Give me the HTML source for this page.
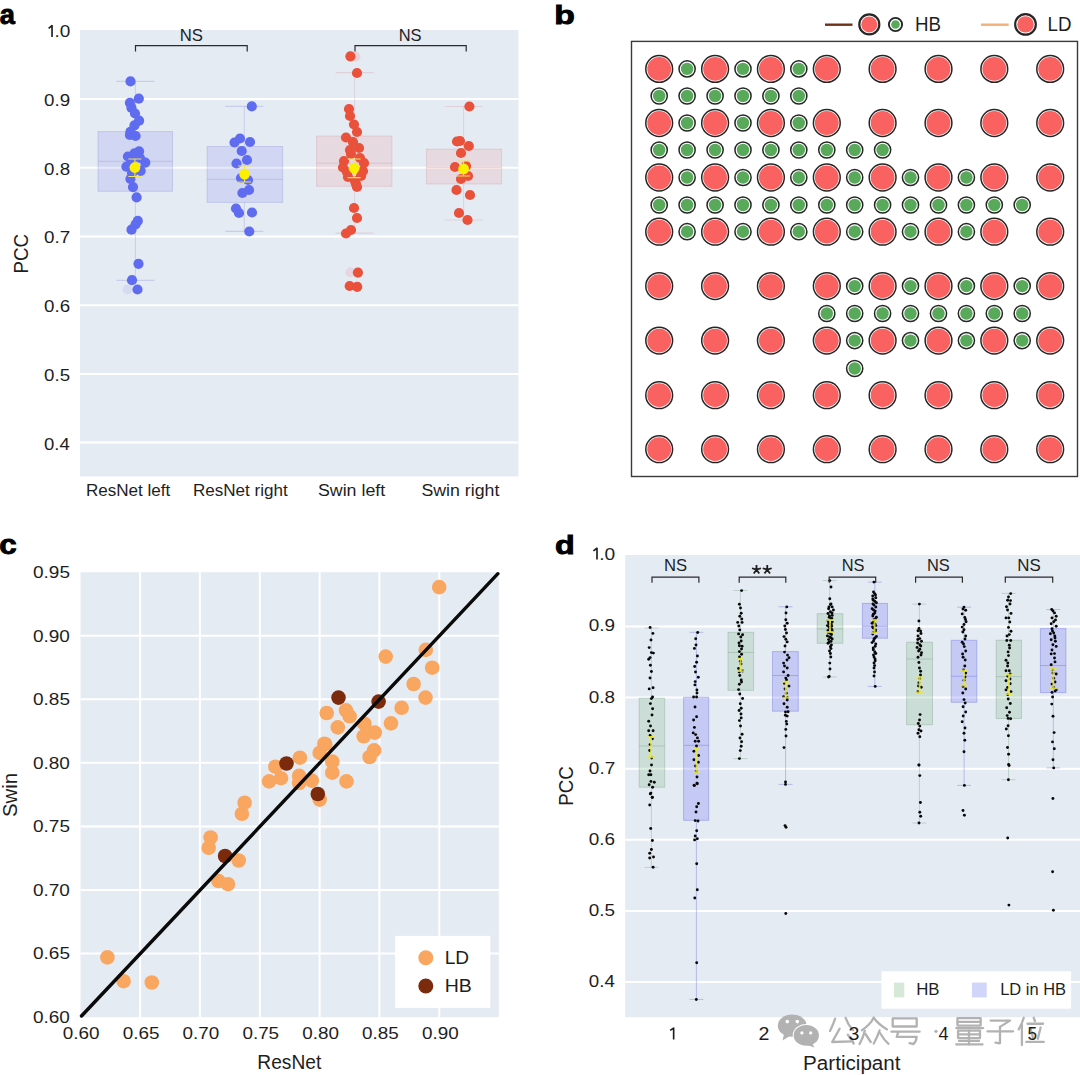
<!DOCTYPE html>
<html><head><meta charset="utf-8"><style>
html,body{margin:0;padding:0;background:#fff;}
body{width:1080px;height:1075px;overflow:hidden;}
svg{display:block;font-family:"Liberation Sans", sans-serif;}
</style></head><body>
<svg width="1080" height="1075" viewBox="0 0 1080 1075">
<rect x="80" y="30" width="438.5" height="446.5" fill="#e5ebf3"/>
<line x1="80" x2="518.5" y1="99.0" y2="99.0" stroke="#fff" stroke-width="2"/>
<line x1="80" x2="518.5" y1="167.7" y2="167.7" stroke="#fff" stroke-width="2"/>
<line x1="80" x2="518.5" y1="236.5" y2="236.5" stroke="#fff" stroke-width="2"/>
<line x1="80" x2="518.5" y1="305.2" y2="305.2" stroke="#fff" stroke-width="2"/>
<line x1="80" x2="518.5" y1="373.9" y2="373.9" stroke="#fff" stroke-width="2"/>
<line x1="80" x2="518.5" y1="442.6" y2="442.6" stroke="#fff" stroke-width="2"/>
<path d="M48.6 28.4 L52.35 25.3 M52.05 25.00 V36.9" stroke="#1e1e1e" stroke-width="1.65" fill="none" stroke-linecap="butt"/>
<text x="54.49" y="36.90" font-size="17.2" font-weight="normal" fill="#1e1e1e" textLength="15.85" lengthAdjust="spacingAndGlyphs">.0</text>
<text x="44.05" y="105.92" font-size="17.2" font-weight="normal" fill="#1e1e1e" textLength="26.10" lengthAdjust="spacingAndGlyphs">0.9</text>
<text x="44.05" y="174.64" font-size="17.2" font-weight="normal" fill="#1e1e1e" textLength="26.05" lengthAdjust="spacingAndGlyphs">0.8</text>
<text x="44.05" y="243.36" font-size="17.2" font-weight="normal" fill="#1e1e1e" textLength="26.20" lengthAdjust="spacingAndGlyphs">0.7</text>
<text x="44.05" y="312.08" font-size="17.2" font-weight="normal" fill="#1e1e1e" textLength="26.05" lengthAdjust="spacingAndGlyphs">0.6</text>
<text x="44.05" y="380.80" font-size="17.2" font-weight="normal" fill="#1e1e1e" textLength="26.00" lengthAdjust="spacingAndGlyphs">0.5</text>
<text x="44.06" y="449.52" font-size="17.2" font-weight="normal" fill="#1e1e1e" textLength="25.75" lengthAdjust="spacingAndGlyphs">0.4</text>
<text transform="translate(27.80 272.00) rotate(-90)" x="-1.55" y="0" font-size="20.3" fill="#1e1e1e" textLength="39.74" lengthAdjust="spacingAndGlyphs">PCC</text>
<text x="85.89" y="495.80" font-size="17.2" font-weight="normal" fill="#1e1e1e" textLength="84.46" lengthAdjust="spacingAndGlyphs">ResNet left</text>
<text x="192.89" y="495.80" font-size="17.2" font-weight="normal" fill="#1e1e1e" textLength="94.84" lengthAdjust="spacingAndGlyphs">ResNet right</text>
<text x="317.90" y="495.80" font-size="17.2" font-weight="normal" fill="#1e1e1e" textLength="67.33" lengthAdjust="spacingAndGlyphs">Swin left</text>
<text x="421.40" y="495.80" font-size="17.2" font-weight="normal" fill="#1e1e1e" textLength="77.95" lengthAdjust="spacingAndGlyphs">Swin right</text>
<path d="M135.4 81.4 V131.6 M135.4 191.3 V280.3" stroke="rgba(100,105,200,0.22)" stroke-width="1" fill="none"/>
<line x1="116.4" x2="154.4" y1="81.4" y2="81.4" stroke="rgba(100,105,200,0.22)" stroke-width="1.2"/>
<line x1="116.4" x2="154.4" y1="280.3" y2="280.3" stroke="rgba(100,105,200,0.22)" stroke-width="1.2"/>
<rect x="98" y="131.6" width="74.5" height="59.70000000000002" fill="rgba(110,120,245,0.17)" stroke="rgba(100,105,200,0.22)" stroke-width="1"/>
<line x1="98" x2="172.5" y1="161.3" y2="161.3" stroke="rgba(100,105,200,0.22)" stroke-width="1"/>
<path d="M244.3 106.4 V146.5 M244.3 202.4 V231.4" stroke="rgba(100,105,200,0.22)" stroke-width="1" fill="none"/>
<line x1="225.3" x2="263.3" y1="106.4" y2="106.4" stroke="rgba(100,105,200,0.22)" stroke-width="1.2"/>
<line x1="225.3" x2="263.3" y1="231.4" y2="231.4" stroke="rgba(100,105,200,0.22)" stroke-width="1.2"/>
<rect x="207.1" y="146.5" width="75.50000000000003" height="55.900000000000006" fill="rgba(110,120,245,0.17)" stroke="rgba(100,105,200,0.22)" stroke-width="1"/>
<line x1="207.1" x2="282.6" y1="179.3" y2="179.3" stroke="rgba(100,105,200,0.22)" stroke-width="1"/>
<path d="M354.6 72.7 V136 M354.6 186.3 V233.2" stroke="rgba(200,120,130,0.22)" stroke-width="1" fill="none"/>
<line x1="335.6" x2="373.6" y1="72.7" y2="72.7" stroke="rgba(200,120,130,0.22)" stroke-width="1.2"/>
<line x1="335.6" x2="373.6" y1="233.2" y2="233.2" stroke="rgba(200,120,130,0.22)" stroke-width="1.2"/>
<rect x="316.6" y="136" width="75.39999999999998" height="50.30000000000001" fill="rgba(240,130,130,0.17)" stroke="rgba(200,120,130,0.22)" stroke-width="1"/>
<line x1="316.6" x2="392" y1="163.2" y2="163.2" stroke="rgba(200,120,130,0.22)" stroke-width="1"/>
<path d="M463.6 106.5 V149.2 M463.6 184 V220" stroke="rgba(200,120,130,0.22)" stroke-width="1" fill="none"/>
<line x1="444.6" x2="482.6" y1="106.5" y2="106.5" stroke="rgba(200,120,130,0.22)" stroke-width="1.2"/>
<line x1="444.6" x2="482.6" y1="220" y2="220" stroke="rgba(200,120,130,0.22)" stroke-width="1.2"/>
<rect x="426.4" y="149.2" width="75.20000000000005" height="34.80000000000001" fill="rgba(240,130,130,0.17)" stroke="rgba(200,120,130,0.22)" stroke-width="1"/>
<line x1="426.4" x2="501.6" y1="167.6" y2="167.6" stroke="rgba(200,120,130,0.22)" stroke-width="1"/>
<circle cx="355.5" cy="56.5" r="5" fill="rgba(240,150,160,0.3)"/>
<circle cx="350.5" cy="272.2" r="5" fill="rgba(240,150,170,0.25)"/>
<circle cx="127.5" cy="289.5" r="5" fill="rgba(150,150,240,0.18)"/>
<circle cx="130.5" cy="81.4" r="5.1" fill="#5f6cf0"/>
<circle cx="138.8" cy="98.7" r="5.1" fill="#5f6cf0"/>
<circle cx="129.9" cy="102.8" r="5.1" fill="#5f6cf0"/>
<circle cx="131.5" cy="107.9" r="5.1" fill="#5f6cf0"/>
<circle cx="135" cy="113.5" r="5.1" fill="#5f6cf0"/>
<circle cx="139.1" cy="120.7" r="5.1" fill="#5f6cf0"/>
<circle cx="134.5" cy="125.3" r="5.1" fill="#5f6cf0"/>
<circle cx="130.4" cy="131.9" r="5.1" fill="#5f6cf0"/>
<circle cx="135.6" cy="136" r="5.1" fill="#5f6cf0"/>
<circle cx="129.9" cy="135" r="5.1" fill="#5f6cf0"/>
<circle cx="139.1" cy="151.3" r="5.1" fill="#5f6cf0"/>
<circle cx="127.9" cy="156.5" r="5.1" fill="#5f6cf0"/>
<circle cx="134.5" cy="153.4" r="5.1" fill="#5f6cf0"/>
<circle cx="145.3" cy="162.6" r="5.1" fill="#5f6cf0"/>
<circle cx="126.4" cy="166.7" r="5.1" fill="#5f6cf0"/>
<circle cx="140.7" cy="170.8" r="5.1" fill="#5f6cf0"/>
<circle cx="130.4" cy="179" r="5.1" fill="#5f6cf0"/>
<circle cx="133" cy="187.1" r="5.1" fill="#5f6cf0"/>
<circle cx="136.6" cy="197.4" r="5.1" fill="#5f6cf0"/>
<circle cx="131" cy="160" r="5.1" fill="#5f6cf0"/>
<circle cx="140" cy="158" r="5.1" fill="#5f6cf0"/>
<circle cx="132" cy="173" r="5.1" fill="#5f6cf0"/>
<circle cx="137.8" cy="220.9" r="5.1" fill="#5f6cf0"/>
<circle cx="135.6" cy="224.3" r="5.1" fill="#5f6cf0"/>
<circle cx="131.5" cy="229.7" r="5.1" fill="#5f6cf0"/>
<circle cx="138.5" cy="263.8" r="5.1" fill="#5f6cf0"/>
<circle cx="132" cy="280.2" r="5.1" fill="#5f6cf0"/>
<circle cx="137.5" cy="289.5" r="5.1" fill="#5f6cf0"/>
<circle cx="251.8" cy="106.4" r="5.1" fill="#5f6cf0"/>
<circle cx="240" cy="138.5" r="5.1" fill="#5f6cf0"/>
<circle cx="234.5" cy="142.5" r="5.1" fill="#5f6cf0"/>
<circle cx="250" cy="142" r="5.1" fill="#5f6cf0"/>
<circle cx="241.7" cy="151" r="5.1" fill="#5f6cf0"/>
<circle cx="247" cy="160" r="5.1" fill="#5f6cf0"/>
<circle cx="236.5" cy="163.5" r="5.1" fill="#5f6cf0"/>
<circle cx="241" cy="178" r="5.1" fill="#5f6cf0"/>
<circle cx="248" cy="180" r="5.1" fill="#5f6cf0"/>
<circle cx="249" cy="190" r="5.1" fill="#5f6cf0"/>
<circle cx="242.4" cy="193" r="5.1" fill="#5f6cf0"/>
<circle cx="236" cy="208.5" r="5.1" fill="#5f6cf0"/>
<circle cx="239" cy="213" r="5.1" fill="#5f6cf0"/>
<circle cx="252" cy="212.5" r="5.1" fill="#5f6cf0"/>
<circle cx="249.3" cy="231.5" r="5.1" fill="#5f6cf0"/>
<circle cx="350.4" cy="56.3" r="5.1" fill="#e9513b"/>
<circle cx="357" cy="73" r="5.1" fill="#e9513b"/>
<circle cx="349" cy="109" r="5.1" fill="#e9513b"/>
<circle cx="350" cy="116" r="5.1" fill="#e9513b"/>
<circle cx="354" cy="124.5" r="5.1" fill="#e9513b"/>
<circle cx="357" cy="132" r="5.1" fill="#e9513b"/>
<circle cx="346" cy="137.5" r="5.1" fill="#e9513b"/>
<circle cx="353" cy="142" r="5.1" fill="#e9513b"/>
<circle cx="359" cy="148" r="5.1" fill="#e9513b"/>
<circle cx="351" cy="154" r="5.1" fill="#e9513b"/>
<circle cx="344" cy="161" r="5.1" fill="#e9513b"/>
<circle cx="343" cy="167.5" r="5.1" fill="#e9513b"/>
<circle cx="364" cy="163" r="5.1" fill="#e9513b"/>
<circle cx="363" cy="171" r="5.1" fill="#e9513b"/>
<circle cx="348" cy="177" r="5.1" fill="#e9513b"/>
<circle cx="355" cy="181" r="5.1" fill="#e9513b"/>
<circle cx="357" cy="187" r="5.1" fill="#e9513b"/>
<circle cx="356" cy="184" r="5.1" fill="#e9513b"/>
<circle cx="354" cy="208" r="5.1" fill="#e9513b"/>
<circle cx="357" cy="218" r="5.1" fill="#e9513b"/>
<circle cx="346" cy="233.5" r="5.1" fill="#e9513b"/>
<circle cx="351" cy="230" r="5.1" fill="#e9513b"/>
<circle cx="357.9" cy="272.6" r="5.1" fill="#e9513b"/>
<circle cx="349.7" cy="286" r="5.1" fill="#e9513b"/>
<circle cx="357.2" cy="286.8" r="5.1" fill="#e9513b"/>
<circle cx="350" cy="150" r="5.1" fill="#e9513b"/>
<circle cx="360" cy="158" r="5.1" fill="#e9513b"/>
<circle cx="347" cy="172" r="5.1" fill="#e9513b"/>
<circle cx="361" cy="176" r="5.1" fill="#e9513b"/>
<circle cx="469.4" cy="106.5" r="5.1" fill="#e9513b"/>
<circle cx="457" cy="141.5" r="5.1" fill="#e9513b"/>
<circle cx="460" cy="141" r="5.1" fill="#e9513b"/>
<circle cx="468.8" cy="146" r="5.1" fill="#e9513b"/>
<circle cx="461" cy="153" r="5.1" fill="#e9513b"/>
<circle cx="455" cy="167" r="5.1" fill="#e9513b"/>
<circle cx="466" cy="166" r="5.1" fill="#e9513b"/>
<circle cx="468" cy="176" r="5.1" fill="#e9513b"/>
<circle cx="461" cy="179" r="5.1" fill="#e9513b"/>
<circle cx="456.5" cy="190" r="5.1" fill="#e9513b"/>
<circle cx="470" cy="195" r="5.1" fill="#e9513b"/>
<circle cx="459" cy="213" r="5.1" fill="#e9513b"/>
<circle cx="467.5" cy="220" r="5.1" fill="#e9513b"/>
<path d="M134.9 159 V176.5 M128.4 159 H141.4 M128.4 176.5 H141.4" stroke="#f2e25a" stroke-width="1.1" fill="none"/>
<circle cx="134.9" cy="167.5" r="5.4" fill="#fbf000"/>
<path d="M244.6 166 V182 M238.1 166 H251.1 M238.1 182 H251.1" stroke="#f2e25a" stroke-width="1.1" fill="none"/>
<circle cx="244.6" cy="174.1" r="5.4" fill="#fbf000"/>
<path d="M354.1 159 V177.6 M347.6 159 H360.6 M347.6 177.6 H360.6" stroke="#f2e25a" stroke-width="1.1" fill="none"/>
<circle cx="354.1" cy="168.3" r="5.4" fill="#fbf000"/>
<path d="M463.6 161 V176 M457.1 161 H470.1 M457.1 176 H470.1" stroke="#f2e25a" stroke-width="1.1" fill="none"/>
<circle cx="463.6" cy="168.9" r="5.4" fill="#fbf000"/>
<path d="M135.5 51.5 V45.6 H247.2 V51.5" fill="none" stroke="#2a2a2a" stroke-width="1.2"/>
<path d="M355 51.5 V45.6 H466.2 V51.5" fill="none" stroke="#2a2a2a" stroke-width="1.2"/>
<text x="179.72" y="41.40" font-size="17" font-weight="normal" fill="#1e1e1e" textLength="23.22" lengthAdjust="spacingAndGlyphs">NS</text>
<text x="398.64" y="41.40" font-size="17" font-weight="normal" fill="#1e1e1e" textLength="22.89" lengthAdjust="spacingAndGlyphs">NS</text>
<text x="-0.32" y="23.70" font-size="28" font-weight="bold" fill="#000" textLength="15.14" lengthAdjust="spacingAndGlyphs" stroke="#000" stroke-width="0.9">a</text>
<rect x="631.5" y="41.4" width="446" height="435.1" fill="#fff" stroke="#3a3a3a" stroke-width="1.4"/>
<text x="554.31" y="24.00" font-size="26.5" font-weight="bold" fill="#000" textLength="20.56" lengthAdjust="spacingAndGlyphs" stroke="#000" stroke-width="0.9">b</text>
<circle cx="659.2" cy="68.9" r="13.4" fill="#fff" stroke="#262626" stroke-width="1.5"/>
<circle cx="659.2" cy="68.9" r="11.9" fill="#fa6262"/>
<circle cx="715.1" cy="68.9" r="13.4" fill="#fff" stroke="#262626" stroke-width="1.5"/>
<circle cx="715.1" cy="68.9" r="11.9" fill="#fa6262"/>
<circle cx="770.9" cy="68.9" r="13.4" fill="#fff" stroke="#262626" stroke-width="1.5"/>
<circle cx="770.9" cy="68.9" r="11.9" fill="#fa6262"/>
<circle cx="826.8" cy="68.9" r="13.4" fill="#fff" stroke="#262626" stroke-width="1.5"/>
<circle cx="826.8" cy="68.9" r="11.9" fill="#fa6262"/>
<circle cx="882.6" cy="68.9" r="13.4" fill="#fff" stroke="#262626" stroke-width="1.5"/>
<circle cx="882.6" cy="68.9" r="11.9" fill="#fa6262"/>
<circle cx="938.5" cy="68.9" r="13.4" fill="#fff" stroke="#262626" stroke-width="1.5"/>
<circle cx="938.5" cy="68.9" r="11.9" fill="#fa6262"/>
<circle cx="994.3" cy="68.9" r="13.4" fill="#fff" stroke="#262626" stroke-width="1.5"/>
<circle cx="994.3" cy="68.9" r="11.9" fill="#fa6262"/>
<circle cx="1050.2" cy="68.9" r="13.4" fill="#fff" stroke="#262626" stroke-width="1.5"/>
<circle cx="1050.2" cy="68.9" r="11.9" fill="#fa6262"/>
<circle cx="659.2" cy="123.0" r="13.4" fill="#fff" stroke="#262626" stroke-width="1.5"/>
<circle cx="659.2" cy="123.0" r="11.9" fill="#fa6262"/>
<circle cx="715.1" cy="123.0" r="13.4" fill="#fff" stroke="#262626" stroke-width="1.5"/>
<circle cx="715.1" cy="123.0" r="11.9" fill="#fa6262"/>
<circle cx="770.9" cy="123.0" r="13.4" fill="#fff" stroke="#262626" stroke-width="1.5"/>
<circle cx="770.9" cy="123.0" r="11.9" fill="#fa6262"/>
<circle cx="826.8" cy="123.0" r="13.4" fill="#fff" stroke="#262626" stroke-width="1.5"/>
<circle cx="826.8" cy="123.0" r="11.9" fill="#fa6262"/>
<circle cx="882.6" cy="123.0" r="13.4" fill="#fff" stroke="#262626" stroke-width="1.5"/>
<circle cx="882.6" cy="123.0" r="11.9" fill="#fa6262"/>
<circle cx="938.5" cy="123.0" r="13.4" fill="#fff" stroke="#262626" stroke-width="1.5"/>
<circle cx="938.5" cy="123.0" r="11.9" fill="#fa6262"/>
<circle cx="994.3" cy="123.0" r="13.4" fill="#fff" stroke="#262626" stroke-width="1.5"/>
<circle cx="994.3" cy="123.0" r="11.9" fill="#fa6262"/>
<circle cx="1050.2" cy="123.0" r="13.4" fill="#fff" stroke="#262626" stroke-width="1.5"/>
<circle cx="1050.2" cy="123.0" r="11.9" fill="#fa6262"/>
<circle cx="659.2" cy="177.5" r="13.4" fill="#fff" stroke="#262626" stroke-width="1.5"/>
<circle cx="659.2" cy="177.5" r="11.9" fill="#fa6262"/>
<circle cx="715.1" cy="177.5" r="13.4" fill="#fff" stroke="#262626" stroke-width="1.5"/>
<circle cx="715.1" cy="177.5" r="11.9" fill="#fa6262"/>
<circle cx="770.9" cy="177.5" r="13.4" fill="#fff" stroke="#262626" stroke-width="1.5"/>
<circle cx="770.9" cy="177.5" r="11.9" fill="#fa6262"/>
<circle cx="826.8" cy="177.5" r="13.4" fill="#fff" stroke="#262626" stroke-width="1.5"/>
<circle cx="826.8" cy="177.5" r="11.9" fill="#fa6262"/>
<circle cx="882.6" cy="177.5" r="13.4" fill="#fff" stroke="#262626" stroke-width="1.5"/>
<circle cx="882.6" cy="177.5" r="11.9" fill="#fa6262"/>
<circle cx="938.5" cy="177.5" r="13.4" fill="#fff" stroke="#262626" stroke-width="1.5"/>
<circle cx="938.5" cy="177.5" r="11.9" fill="#fa6262"/>
<circle cx="994.3" cy="177.5" r="13.4" fill="#fff" stroke="#262626" stroke-width="1.5"/>
<circle cx="994.3" cy="177.5" r="11.9" fill="#fa6262"/>
<circle cx="1050.2" cy="177.5" r="13.4" fill="#fff" stroke="#262626" stroke-width="1.5"/>
<circle cx="1050.2" cy="177.5" r="11.9" fill="#fa6262"/>
<circle cx="659.2" cy="231.7" r="13.4" fill="#fff" stroke="#262626" stroke-width="1.5"/>
<circle cx="659.2" cy="231.7" r="11.9" fill="#fa6262"/>
<circle cx="715.1" cy="231.7" r="13.4" fill="#fff" stroke="#262626" stroke-width="1.5"/>
<circle cx="715.1" cy="231.7" r="11.9" fill="#fa6262"/>
<circle cx="770.9" cy="231.7" r="13.4" fill="#fff" stroke="#262626" stroke-width="1.5"/>
<circle cx="770.9" cy="231.7" r="11.9" fill="#fa6262"/>
<circle cx="826.8" cy="231.7" r="13.4" fill="#fff" stroke="#262626" stroke-width="1.5"/>
<circle cx="826.8" cy="231.7" r="11.9" fill="#fa6262"/>
<circle cx="882.6" cy="231.7" r="13.4" fill="#fff" stroke="#262626" stroke-width="1.5"/>
<circle cx="882.6" cy="231.7" r="11.9" fill="#fa6262"/>
<circle cx="938.5" cy="231.7" r="13.4" fill="#fff" stroke="#262626" stroke-width="1.5"/>
<circle cx="938.5" cy="231.7" r="11.9" fill="#fa6262"/>
<circle cx="994.3" cy="231.7" r="13.4" fill="#fff" stroke="#262626" stroke-width="1.5"/>
<circle cx="994.3" cy="231.7" r="11.9" fill="#fa6262"/>
<circle cx="1050.2" cy="231.7" r="13.4" fill="#fff" stroke="#262626" stroke-width="1.5"/>
<circle cx="1050.2" cy="231.7" r="11.9" fill="#fa6262"/>
<circle cx="659.2" cy="286.1" r="13.4" fill="#fff" stroke="#262626" stroke-width="1.5"/>
<circle cx="659.2" cy="286.1" r="11.9" fill="#fa6262"/>
<circle cx="715.1" cy="286.1" r="13.4" fill="#fff" stroke="#262626" stroke-width="1.5"/>
<circle cx="715.1" cy="286.1" r="11.9" fill="#fa6262"/>
<circle cx="770.9" cy="286.1" r="13.4" fill="#fff" stroke="#262626" stroke-width="1.5"/>
<circle cx="770.9" cy="286.1" r="11.9" fill="#fa6262"/>
<circle cx="826.8" cy="286.1" r="13.4" fill="#fff" stroke="#262626" stroke-width="1.5"/>
<circle cx="826.8" cy="286.1" r="11.9" fill="#fa6262"/>
<circle cx="882.6" cy="286.1" r="13.4" fill="#fff" stroke="#262626" stroke-width="1.5"/>
<circle cx="882.6" cy="286.1" r="11.9" fill="#fa6262"/>
<circle cx="938.5" cy="286.1" r="13.4" fill="#fff" stroke="#262626" stroke-width="1.5"/>
<circle cx="938.5" cy="286.1" r="11.9" fill="#fa6262"/>
<circle cx="994.3" cy="286.1" r="13.4" fill="#fff" stroke="#262626" stroke-width="1.5"/>
<circle cx="994.3" cy="286.1" r="11.9" fill="#fa6262"/>
<circle cx="1050.2" cy="286.1" r="13.4" fill="#fff" stroke="#262626" stroke-width="1.5"/>
<circle cx="1050.2" cy="286.1" r="11.9" fill="#fa6262"/>
<circle cx="659.2" cy="340.6" r="13.4" fill="#fff" stroke="#262626" stroke-width="1.5"/>
<circle cx="659.2" cy="340.6" r="11.9" fill="#fa6262"/>
<circle cx="715.1" cy="340.6" r="13.4" fill="#fff" stroke="#262626" stroke-width="1.5"/>
<circle cx="715.1" cy="340.6" r="11.9" fill="#fa6262"/>
<circle cx="770.9" cy="340.6" r="13.4" fill="#fff" stroke="#262626" stroke-width="1.5"/>
<circle cx="770.9" cy="340.6" r="11.9" fill="#fa6262"/>
<circle cx="826.8" cy="340.6" r="13.4" fill="#fff" stroke="#262626" stroke-width="1.5"/>
<circle cx="826.8" cy="340.6" r="11.9" fill="#fa6262"/>
<circle cx="882.6" cy="340.6" r="13.4" fill="#fff" stroke="#262626" stroke-width="1.5"/>
<circle cx="882.6" cy="340.6" r="11.9" fill="#fa6262"/>
<circle cx="938.5" cy="340.6" r="13.4" fill="#fff" stroke="#262626" stroke-width="1.5"/>
<circle cx="938.5" cy="340.6" r="11.9" fill="#fa6262"/>
<circle cx="994.3" cy="340.6" r="13.4" fill="#fff" stroke="#262626" stroke-width="1.5"/>
<circle cx="994.3" cy="340.6" r="11.9" fill="#fa6262"/>
<circle cx="1050.2" cy="340.6" r="13.4" fill="#fff" stroke="#262626" stroke-width="1.5"/>
<circle cx="1050.2" cy="340.6" r="11.9" fill="#fa6262"/>
<circle cx="659.2" cy="395.2" r="13.4" fill="#fff" stroke="#262626" stroke-width="1.5"/>
<circle cx="659.2" cy="395.2" r="11.9" fill="#fa6262"/>
<circle cx="715.1" cy="395.2" r="13.4" fill="#fff" stroke="#262626" stroke-width="1.5"/>
<circle cx="715.1" cy="395.2" r="11.9" fill="#fa6262"/>
<circle cx="770.9" cy="395.2" r="13.4" fill="#fff" stroke="#262626" stroke-width="1.5"/>
<circle cx="770.9" cy="395.2" r="11.9" fill="#fa6262"/>
<circle cx="826.8" cy="395.2" r="13.4" fill="#fff" stroke="#262626" stroke-width="1.5"/>
<circle cx="826.8" cy="395.2" r="11.9" fill="#fa6262"/>
<circle cx="882.6" cy="395.2" r="13.4" fill="#fff" stroke="#262626" stroke-width="1.5"/>
<circle cx="882.6" cy="395.2" r="11.9" fill="#fa6262"/>
<circle cx="938.5" cy="395.2" r="13.4" fill="#fff" stroke="#262626" stroke-width="1.5"/>
<circle cx="938.5" cy="395.2" r="11.9" fill="#fa6262"/>
<circle cx="994.3" cy="395.2" r="13.4" fill="#fff" stroke="#262626" stroke-width="1.5"/>
<circle cx="994.3" cy="395.2" r="11.9" fill="#fa6262"/>
<circle cx="1050.2" cy="395.2" r="13.4" fill="#fff" stroke="#262626" stroke-width="1.5"/>
<circle cx="1050.2" cy="395.2" r="11.9" fill="#fa6262"/>
<circle cx="659.2" cy="449.2" r="13.4" fill="#fff" stroke="#262626" stroke-width="1.5"/>
<circle cx="659.2" cy="449.2" r="11.9" fill="#fa6262"/>
<circle cx="715.1" cy="449.2" r="13.4" fill="#fff" stroke="#262626" stroke-width="1.5"/>
<circle cx="715.1" cy="449.2" r="11.9" fill="#fa6262"/>
<circle cx="770.9" cy="449.2" r="13.4" fill="#fff" stroke="#262626" stroke-width="1.5"/>
<circle cx="770.9" cy="449.2" r="11.9" fill="#fa6262"/>
<circle cx="826.8" cy="449.2" r="13.4" fill="#fff" stroke="#262626" stroke-width="1.5"/>
<circle cx="826.8" cy="449.2" r="11.9" fill="#fa6262"/>
<circle cx="882.6" cy="449.2" r="13.4" fill="#fff" stroke="#262626" stroke-width="1.5"/>
<circle cx="882.6" cy="449.2" r="11.9" fill="#fa6262"/>
<circle cx="938.5" cy="449.2" r="13.4" fill="#fff" stroke="#262626" stroke-width="1.5"/>
<circle cx="938.5" cy="449.2" r="11.9" fill="#fa6262"/>
<circle cx="994.3" cy="449.2" r="13.4" fill="#fff" stroke="#262626" stroke-width="1.5"/>
<circle cx="994.3" cy="449.2" r="11.9" fill="#fa6262"/>
<circle cx="1050.2" cy="449.2" r="13.4" fill="#fff" stroke="#262626" stroke-width="1.5"/>
<circle cx="1050.2" cy="449.2" r="11.9" fill="#fa6262"/>
<circle cx="687.1" cy="68.9" r="8.1" fill="#fff" stroke="#262626" stroke-width="1.5"/>
<circle cx="687.1" cy="68.9" r="6.2" fill="#58aa5a"/>
<circle cx="743.0" cy="68.9" r="8.1" fill="#fff" stroke="#262626" stroke-width="1.5"/>
<circle cx="743.0" cy="68.9" r="6.2" fill="#58aa5a"/>
<circle cx="798.8" cy="68.9" r="8.1" fill="#fff" stroke="#262626" stroke-width="1.5"/>
<circle cx="798.8" cy="68.9" r="6.2" fill="#58aa5a"/>
<circle cx="687.1" cy="123.0" r="8.1" fill="#fff" stroke="#262626" stroke-width="1.5"/>
<circle cx="687.1" cy="123.0" r="6.2" fill="#58aa5a"/>
<circle cx="743.0" cy="123.0" r="8.1" fill="#fff" stroke="#262626" stroke-width="1.5"/>
<circle cx="743.0" cy="123.0" r="6.2" fill="#58aa5a"/>
<circle cx="798.8" cy="123.0" r="8.1" fill="#fff" stroke="#262626" stroke-width="1.5"/>
<circle cx="798.8" cy="123.0" r="6.2" fill="#58aa5a"/>
<circle cx="687.1" cy="177.5" r="8.1" fill="#fff" stroke="#262626" stroke-width="1.5"/>
<circle cx="687.1" cy="177.5" r="6.2" fill="#58aa5a"/>
<circle cx="743.0" cy="177.5" r="8.1" fill="#fff" stroke="#262626" stroke-width="1.5"/>
<circle cx="743.0" cy="177.5" r="6.2" fill="#58aa5a"/>
<circle cx="798.8" cy="177.5" r="8.1" fill="#fff" stroke="#262626" stroke-width="1.5"/>
<circle cx="798.8" cy="177.5" r="6.2" fill="#58aa5a"/>
<circle cx="854.7" cy="177.5" r="8.1" fill="#fff" stroke="#262626" stroke-width="1.5"/>
<circle cx="854.7" cy="177.5" r="6.2" fill="#58aa5a"/>
<circle cx="910.5" cy="177.5" r="8.1" fill="#fff" stroke="#262626" stroke-width="1.5"/>
<circle cx="910.5" cy="177.5" r="6.2" fill="#58aa5a"/>
<circle cx="966.4" cy="177.5" r="8.1" fill="#fff" stroke="#262626" stroke-width="1.5"/>
<circle cx="966.4" cy="177.5" r="6.2" fill="#58aa5a"/>
<circle cx="687.1" cy="231.7" r="8.1" fill="#fff" stroke="#262626" stroke-width="1.5"/>
<circle cx="687.1" cy="231.7" r="6.2" fill="#58aa5a"/>
<circle cx="743.0" cy="231.7" r="8.1" fill="#fff" stroke="#262626" stroke-width="1.5"/>
<circle cx="743.0" cy="231.7" r="6.2" fill="#58aa5a"/>
<circle cx="798.8" cy="231.7" r="8.1" fill="#fff" stroke="#262626" stroke-width="1.5"/>
<circle cx="798.8" cy="231.7" r="6.2" fill="#58aa5a"/>
<circle cx="854.7" cy="231.7" r="8.1" fill="#fff" stroke="#262626" stroke-width="1.5"/>
<circle cx="854.7" cy="231.7" r="6.2" fill="#58aa5a"/>
<circle cx="910.5" cy="231.7" r="8.1" fill="#fff" stroke="#262626" stroke-width="1.5"/>
<circle cx="910.5" cy="231.7" r="6.2" fill="#58aa5a"/>
<circle cx="966.4" cy="231.7" r="8.1" fill="#fff" stroke="#262626" stroke-width="1.5"/>
<circle cx="966.4" cy="231.7" r="6.2" fill="#58aa5a"/>
<circle cx="854.7" cy="286.1" r="8.1" fill="#fff" stroke="#262626" stroke-width="1.5"/>
<circle cx="854.7" cy="286.1" r="6.2" fill="#58aa5a"/>
<circle cx="910.5" cy="286.1" r="8.1" fill="#fff" stroke="#262626" stroke-width="1.5"/>
<circle cx="910.5" cy="286.1" r="6.2" fill="#58aa5a"/>
<circle cx="966.4" cy="286.1" r="8.1" fill="#fff" stroke="#262626" stroke-width="1.5"/>
<circle cx="966.4" cy="286.1" r="6.2" fill="#58aa5a"/>
<circle cx="1022.2" cy="286.1" r="8.1" fill="#fff" stroke="#262626" stroke-width="1.5"/>
<circle cx="1022.2" cy="286.1" r="6.2" fill="#58aa5a"/>
<circle cx="854.7" cy="340.6" r="8.1" fill="#fff" stroke="#262626" stroke-width="1.5"/>
<circle cx="854.7" cy="340.6" r="6.2" fill="#58aa5a"/>
<circle cx="910.5" cy="340.6" r="8.1" fill="#fff" stroke="#262626" stroke-width="1.5"/>
<circle cx="910.5" cy="340.6" r="6.2" fill="#58aa5a"/>
<circle cx="966.4" cy="340.6" r="8.1" fill="#fff" stroke="#262626" stroke-width="1.5"/>
<circle cx="966.4" cy="340.6" r="6.2" fill="#58aa5a"/>
<circle cx="1022.2" cy="340.6" r="8.1" fill="#fff" stroke="#262626" stroke-width="1.5"/>
<circle cx="1022.2" cy="340.6" r="6.2" fill="#58aa5a"/>
<circle cx="659.2" cy="96.0" r="8.1" fill="#fff" stroke="#262626" stroke-width="1.5"/>
<circle cx="659.2" cy="96.0" r="6.2" fill="#58aa5a"/>
<circle cx="687.1" cy="96.0" r="8.1" fill="#fff" stroke="#262626" stroke-width="1.5"/>
<circle cx="687.1" cy="96.0" r="6.2" fill="#58aa5a"/>
<circle cx="715.1" cy="96.0" r="8.1" fill="#fff" stroke="#262626" stroke-width="1.5"/>
<circle cx="715.1" cy="96.0" r="6.2" fill="#58aa5a"/>
<circle cx="743.0" cy="96.0" r="8.1" fill="#fff" stroke="#262626" stroke-width="1.5"/>
<circle cx="743.0" cy="96.0" r="6.2" fill="#58aa5a"/>
<circle cx="770.9" cy="96.0" r="8.1" fill="#fff" stroke="#262626" stroke-width="1.5"/>
<circle cx="770.9" cy="96.0" r="6.2" fill="#58aa5a"/>
<circle cx="798.8" cy="96.0" r="8.1" fill="#fff" stroke="#262626" stroke-width="1.5"/>
<circle cx="798.8" cy="96.0" r="6.2" fill="#58aa5a"/>
<circle cx="659.2" cy="150.0" r="8.1" fill="#fff" stroke="#262626" stroke-width="1.5"/>
<circle cx="659.2" cy="150.0" r="6.2" fill="#58aa5a"/>
<circle cx="687.1" cy="150.0" r="8.1" fill="#fff" stroke="#262626" stroke-width="1.5"/>
<circle cx="687.1" cy="150.0" r="6.2" fill="#58aa5a"/>
<circle cx="715.1" cy="150.0" r="8.1" fill="#fff" stroke="#262626" stroke-width="1.5"/>
<circle cx="715.1" cy="150.0" r="6.2" fill="#58aa5a"/>
<circle cx="743.0" cy="150.0" r="8.1" fill="#fff" stroke="#262626" stroke-width="1.5"/>
<circle cx="743.0" cy="150.0" r="6.2" fill="#58aa5a"/>
<circle cx="770.9" cy="150.0" r="8.1" fill="#fff" stroke="#262626" stroke-width="1.5"/>
<circle cx="770.9" cy="150.0" r="6.2" fill="#58aa5a"/>
<circle cx="798.8" cy="150.0" r="8.1" fill="#fff" stroke="#262626" stroke-width="1.5"/>
<circle cx="798.8" cy="150.0" r="6.2" fill="#58aa5a"/>
<circle cx="826.8" cy="150.0" r="8.1" fill="#fff" stroke="#262626" stroke-width="1.5"/>
<circle cx="826.8" cy="150.0" r="6.2" fill="#58aa5a"/>
<circle cx="854.7" cy="150.0" r="8.1" fill="#fff" stroke="#262626" stroke-width="1.5"/>
<circle cx="854.7" cy="150.0" r="6.2" fill="#58aa5a"/>
<circle cx="882.6" cy="150.0" r="8.1" fill="#fff" stroke="#262626" stroke-width="1.5"/>
<circle cx="882.6" cy="150.0" r="6.2" fill="#58aa5a"/>
<circle cx="659.2" cy="205.0" r="8.1" fill="#fff" stroke="#262626" stroke-width="1.5"/>
<circle cx="659.2" cy="205.0" r="6.2" fill="#58aa5a"/>
<circle cx="687.1" cy="205.0" r="8.1" fill="#fff" stroke="#262626" stroke-width="1.5"/>
<circle cx="687.1" cy="205.0" r="6.2" fill="#58aa5a"/>
<circle cx="715.1" cy="205.0" r="8.1" fill="#fff" stroke="#262626" stroke-width="1.5"/>
<circle cx="715.1" cy="205.0" r="6.2" fill="#58aa5a"/>
<circle cx="743.0" cy="205.0" r="8.1" fill="#fff" stroke="#262626" stroke-width="1.5"/>
<circle cx="743.0" cy="205.0" r="6.2" fill="#58aa5a"/>
<circle cx="770.9" cy="205.0" r="8.1" fill="#fff" stroke="#262626" stroke-width="1.5"/>
<circle cx="770.9" cy="205.0" r="6.2" fill="#58aa5a"/>
<circle cx="798.8" cy="205.0" r="8.1" fill="#fff" stroke="#262626" stroke-width="1.5"/>
<circle cx="798.8" cy="205.0" r="6.2" fill="#58aa5a"/>
<circle cx="826.8" cy="205.0" r="8.1" fill="#fff" stroke="#262626" stroke-width="1.5"/>
<circle cx="826.8" cy="205.0" r="6.2" fill="#58aa5a"/>
<circle cx="854.7" cy="205.0" r="8.1" fill="#fff" stroke="#262626" stroke-width="1.5"/>
<circle cx="854.7" cy="205.0" r="6.2" fill="#58aa5a"/>
<circle cx="882.6" cy="205.0" r="8.1" fill="#fff" stroke="#262626" stroke-width="1.5"/>
<circle cx="882.6" cy="205.0" r="6.2" fill="#58aa5a"/>
<circle cx="910.5" cy="205.0" r="8.1" fill="#fff" stroke="#262626" stroke-width="1.5"/>
<circle cx="910.5" cy="205.0" r="6.2" fill="#58aa5a"/>
<circle cx="938.5" cy="205.0" r="8.1" fill="#fff" stroke="#262626" stroke-width="1.5"/>
<circle cx="938.5" cy="205.0" r="6.2" fill="#58aa5a"/>
<circle cx="966.4" cy="205.0" r="8.1" fill="#fff" stroke="#262626" stroke-width="1.5"/>
<circle cx="966.4" cy="205.0" r="6.2" fill="#58aa5a"/>
<circle cx="994.3" cy="205.0" r="8.1" fill="#fff" stroke="#262626" stroke-width="1.5"/>
<circle cx="994.3" cy="205.0" r="6.2" fill="#58aa5a"/>
<circle cx="1022.2" cy="205.0" r="8.1" fill="#fff" stroke="#262626" stroke-width="1.5"/>
<circle cx="1022.2" cy="205.0" r="6.2" fill="#58aa5a"/>
<circle cx="826.8" cy="313.5" r="8.1" fill="#fff" stroke="#262626" stroke-width="1.5"/>
<circle cx="826.8" cy="313.5" r="6.2" fill="#58aa5a"/>
<circle cx="854.7" cy="313.5" r="8.1" fill="#fff" stroke="#262626" stroke-width="1.5"/>
<circle cx="854.7" cy="313.5" r="6.2" fill="#58aa5a"/>
<circle cx="882.6" cy="313.5" r="8.1" fill="#fff" stroke="#262626" stroke-width="1.5"/>
<circle cx="882.6" cy="313.5" r="6.2" fill="#58aa5a"/>
<circle cx="910.5" cy="313.5" r="8.1" fill="#fff" stroke="#262626" stroke-width="1.5"/>
<circle cx="910.5" cy="313.5" r="6.2" fill="#58aa5a"/>
<circle cx="938.5" cy="313.5" r="8.1" fill="#fff" stroke="#262626" stroke-width="1.5"/>
<circle cx="938.5" cy="313.5" r="6.2" fill="#58aa5a"/>
<circle cx="966.4" cy="313.5" r="8.1" fill="#fff" stroke="#262626" stroke-width="1.5"/>
<circle cx="966.4" cy="313.5" r="6.2" fill="#58aa5a"/>
<circle cx="994.3" cy="313.5" r="8.1" fill="#fff" stroke="#262626" stroke-width="1.5"/>
<circle cx="994.3" cy="313.5" r="6.2" fill="#58aa5a"/>
<circle cx="1022.2" cy="313.5" r="8.1" fill="#fff" stroke="#262626" stroke-width="1.5"/>
<circle cx="1022.2" cy="313.5" r="6.2" fill="#58aa5a"/>
<circle cx="854.7" cy="368.5" r="8.1" fill="#fff" stroke="#262626" stroke-width="1.5"/>
<circle cx="854.7" cy="368.5" r="6.2" fill="#58aa5a"/>
<line x1="825" x2="852.5" y1="24.7" y2="24.7" stroke="#6e3218" stroke-width="2.4"/>
<circle cx="869.3" cy="24.4" r="10.0" fill="#fff" stroke="#262626" stroke-width="2.2"/>
<circle cx="869.3" cy="24.4" r="8.0" fill="#fa6262"/>
<circle cx="895.5" cy="24.5" r="6.6" fill="#fff" stroke="#262626" stroke-width="1.9"/>
<circle cx="895.5" cy="24.5" r="4.3" fill="#58aa5a"/>
<text x="914.96" y="30.60" font-size="20.2" font-weight="normal" fill="#1e1e1e" textLength="26.01" lengthAdjust="spacingAndGlyphs">HB</text>
<line x1="981" x2="1008.7" y1="24.7" y2="24.7" stroke="#f2b07c" stroke-width="2.4"/>
<circle cx="1025.5" cy="24.4" r="10.3" fill="#fff" stroke="#262626" stroke-width="2.2"/>
<circle cx="1025.5" cy="24.4" r="8.2" fill="#fa6262"/>
<text x="1047.55" y="30.60" font-size="20.2" font-weight="normal" fill="#1e1e1e" textLength="23.95" lengthAdjust="spacingAndGlyphs">LD</text>
<rect x="80.5" y="572.2" width="418.3" height="445.0" fill="#e5ebf3"/>
<line x1="140.1" x2="140.1" y1="572.2" y2="1017.2" stroke="#fff" stroke-width="2"/>
<line x1="199.9" x2="199.9" y1="572.2" y2="1017.2" stroke="#fff" stroke-width="2"/>
<line x1="259.8" x2="259.8" y1="572.2" y2="1017.2" stroke="#fff" stroke-width="2"/>
<line x1="319.6" x2="319.6" y1="572.2" y2="1017.2" stroke="#fff" stroke-width="2"/>
<line x1="379.4" x2="379.4" y1="572.2" y2="1017.2" stroke="#fff" stroke-width="2"/>
<line x1="439.3" x2="439.3" y1="572.2" y2="1017.2" stroke="#fff" stroke-width="2"/>
<line x1="80.5" x2="498.8" y1="953.4" y2="953.4" stroke="#fff" stroke-width="2"/>
<line x1="80.5" x2="498.8" y1="889.9" y2="889.9" stroke="#fff" stroke-width="2"/>
<line x1="80.5" x2="498.8" y1="826.4" y2="826.4" stroke="#fff" stroke-width="2"/>
<line x1="80.5" x2="498.8" y1="762.8" y2="762.8" stroke="#fff" stroke-width="2"/>
<line x1="80.5" x2="498.8" y1="699.2" y2="699.2" stroke="#fff" stroke-width="2"/>
<line x1="80.5" x2="498.8" y1="635.7" y2="635.7" stroke="#fff" stroke-width="2"/>
<text x="32.99" y="1023.00" font-size="17.1" font-weight="normal" fill="#1e1e1e" textLength="36.95" lengthAdjust="spacingAndGlyphs">0.60</text>
<text x="32.99" y="959.45" font-size="17.1" font-weight="normal" fill="#1e1e1e" textLength="37.00" lengthAdjust="spacingAndGlyphs">0.65</text>
<text x="32.99" y="895.90" font-size="17.1" font-weight="normal" fill="#1e1e1e" textLength="36.95" lengthAdjust="spacingAndGlyphs">0.70</text>
<text x="32.99" y="832.35" font-size="17.1" font-weight="normal" fill="#1e1e1e" textLength="37.00" lengthAdjust="spacingAndGlyphs">0.75</text>
<text x="32.99" y="768.80" font-size="17.1" font-weight="normal" fill="#1e1e1e" textLength="36.95" lengthAdjust="spacingAndGlyphs">0.80</text>
<text x="32.99" y="705.25" font-size="17.1" font-weight="normal" fill="#1e1e1e" textLength="37.00" lengthAdjust="spacingAndGlyphs">0.85</text>
<text x="32.99" y="641.70" font-size="17.1" font-weight="normal" fill="#1e1e1e" textLength="36.95" lengthAdjust="spacingAndGlyphs">0.90</text>
<text x="32.99" y="578.15" font-size="17.1" font-weight="normal" fill="#1e1e1e" textLength="37.00" lengthAdjust="spacingAndGlyphs">0.95</text>
<text x="62.85" y="1039.40" font-size="17.1" font-weight="normal" fill="#1e1e1e" textLength="36.69" lengthAdjust="spacingAndGlyphs">0.60</text>
<text x="122.70" y="1039.40" font-size="17.1" font-weight="normal" fill="#1e1e1e" textLength="36.74" lengthAdjust="spacingAndGlyphs">0.65</text>
<text x="182.55" y="1039.40" font-size="17.1" font-weight="normal" fill="#1e1e1e" textLength="36.69" lengthAdjust="spacingAndGlyphs">0.70</text>
<text x="242.40" y="1039.40" font-size="17.1" font-weight="normal" fill="#1e1e1e" textLength="36.74" lengthAdjust="spacingAndGlyphs">0.75</text>
<text x="302.25" y="1039.40" font-size="17.1" font-weight="normal" fill="#1e1e1e" textLength="36.69" lengthAdjust="spacingAndGlyphs">0.80</text>
<text x="362.10" y="1039.40" font-size="17.1" font-weight="normal" fill="#1e1e1e" textLength="36.74" lengthAdjust="spacingAndGlyphs">0.85</text>
<text x="421.95" y="1039.40" font-size="17.1" font-weight="normal" fill="#1e1e1e" textLength="36.69" lengthAdjust="spacingAndGlyphs">0.90</text>
<text x="257.32" y="1069.40" font-size="19.3" font-weight="normal" fill="#1e1e1e" textLength="63.92" lengthAdjust="spacingAndGlyphs">ResNet</text>
<text transform="translate(17.30 816.20) rotate(-90)" x="-0.92" y="0" font-size="20.3" fill="#1e1e1e" textLength="44.30" lengthAdjust="spacingAndGlyphs">Swin</text>
<text x="-0.66" y="554.30" font-size="27.8" font-weight="bold" fill="#000" textLength="17.46" lengthAdjust="spacingAndGlyphs" stroke="#000" stroke-width="0.9">c</text>
<circle cx="107.4" cy="957.4" r="7.3" fill="#f8a660"/>
<circle cx="123.6" cy="981.2" r="7.3" fill="#f8a660"/>
<circle cx="151.8" cy="982.5" r="7.3" fill="#f8a660"/>
<circle cx="275.4" cy="766.7" r="7.3" fill="#f8a660"/>
<circle cx="299.9" cy="757.7" r="7.3" fill="#f8a660"/>
<circle cx="269.1" cy="781.4" r="7.3" fill="#f8a660"/>
<circle cx="281" cy="778.2" r="7.3" fill="#f8a660"/>
<circle cx="299.1" cy="775.9" r="7.3" fill="#f8a660"/>
<circle cx="299.1" cy="783" r="7.3" fill="#f8a660"/>
<circle cx="311.8" cy="780.6" r="7.3" fill="#f8a660"/>
<circle cx="319.7" cy="799.6" r="7.3" fill="#f8a660"/>
<circle cx="325.2" cy="744.2" r="7.3" fill="#f8a660"/>
<circle cx="319.7" cy="752.9" r="7.3" fill="#f8a660"/>
<circle cx="332.3" cy="761.6" r="7.3" fill="#f8a660"/>
<circle cx="332.3" cy="772.7" r="7.3" fill="#f8a660"/>
<circle cx="346.5" cy="781.4" r="7.3" fill="#f8a660"/>
<circle cx="244.6" cy="802.7" r="7.3" fill="#f8a660"/>
<circle cx="241.9" cy="813.8" r="7.3" fill="#f8a660"/>
<circle cx="210.6" cy="837.5" r="7.3" fill="#f8a660"/>
<circle cx="208.7" cy="847.8" r="7.3" fill="#f8a660"/>
<circle cx="238.7" cy="860.5" r="7.3" fill="#f8a660"/>
<circle cx="218.5" cy="881" r="7.3" fill="#f8a660"/>
<circle cx="228" cy="884.2" r="7.3" fill="#f8a660"/>
<circle cx="439.2" cy="587.1" r="7.3" fill="#f8a660"/>
<circle cx="385.7" cy="656.6" r="7.3" fill="#f8a660"/>
<circle cx="425.8" cy="649.9" r="7.3" fill="#f8a660"/>
<circle cx="432.2" cy="667.7" r="7.3" fill="#f8a660"/>
<circle cx="413.6" cy="684" r="7.3" fill="#f8a660"/>
<circle cx="425.5" cy="697.6" r="7.3" fill="#f8a660"/>
<circle cx="401.6" cy="707.8" r="7.3" fill="#f8a660"/>
<circle cx="391" cy="723.4" r="7.3" fill="#f8a660"/>
<circle cx="326.7" cy="713" r="7.3" fill="#f8a660"/>
<circle cx="346" cy="710.4" r="7.3" fill="#f8a660"/>
<circle cx="349.6" cy="716.3" r="7.3" fill="#f8a660"/>
<circle cx="337.8" cy="727.4" r="7.3" fill="#f8a660"/>
<circle cx="364.4" cy="723.7" r="7.3" fill="#f8a660"/>
<circle cx="374.8" cy="732.6" r="7.3" fill="#f8a660"/>
<circle cx="363.7" cy="736.3" r="7.3" fill="#f8a660"/>
<circle cx="374.1" cy="750.4" r="7.3" fill="#f8a660"/>
<circle cx="369.6" cy="757" r="7.3" fill="#f8a660"/>
<circle cx="324.4" cy="743.7" r="7.3" fill="#f8a660"/>
<circle cx="286.5" cy="763.5" r="7.3" fill="#7b2a0b"/>
<circle cx="317.8" cy="794" r="7.3" fill="#7b2a0b"/>
<circle cx="225.1" cy="856" r="7.3" fill="#7b2a0b"/>
<circle cx="338.5" cy="697.6" r="7.3" fill="#7b2a0b"/>
<circle cx="378.6" cy="701.6" r="7.3" fill="#7b2a0b"/>
<line x1="81.5" y1="1016.0" x2="497.9" y2="573.7" stroke="#0a0a0a" stroke-width="3.4" stroke-linecap="round"/>
<rect x="395.1" y="935.9" width="95.2" height="72" fill="#fff"/>
<circle cx="425.8" cy="957.8" r="7.5" fill="#f8a660"/>
<circle cx="425.8" cy="986" r="7.5" fill="#7b2a0b"/>
<text x="444.73" y="964.00" font-size="17.9" font-weight="normal" fill="#1e1e1e" textLength="24.40" lengthAdjust="spacingAndGlyphs">LD</text>
<text x="444.69" y="992.00" font-size="17.9" font-weight="normal" fill="#1e1e1e" textLength="27.12" lengthAdjust="spacingAndGlyphs">HB</text>
<rect x="625.2" y="555" width="454.79999999999995" height="462.20000000000005" fill="#e5ebf3"/>
<line x1="625.2" x2="1080" y1="626.4" y2="626.4" stroke="#fff" stroke-width="2"/>
<line x1="625.2" x2="1080" y1="697.5" y2="697.5" stroke="#fff" stroke-width="2"/>
<line x1="625.2" x2="1080" y1="768.7" y2="768.7" stroke="#fff" stroke-width="2"/>
<line x1="625.2" x2="1080" y1="839.8" y2="839.8" stroke="#fff" stroke-width="2"/>
<line x1="625.2" x2="1080" y1="910.9" y2="910.9" stroke="#fff" stroke-width="2"/>
<line x1="625.2" x2="1080" y1="982.0" y2="982.0" stroke="#fff" stroke-width="2"/>
<path d="M593.4 550.8 L597.30 548.0 M597.0 547.70 V559.6" stroke="#1e1e1e" stroke-width="1.65" fill="none" stroke-linecap="butt"/>
<text x="599.28" y="559.60" font-size="17.2" font-weight="normal" fill="#1e1e1e" textLength="15.97" lengthAdjust="spacingAndGlyphs">.0</text>
<text x="588.84" y="631.42" font-size="17.2" font-weight="normal" fill="#1e1e1e" textLength="26.31" lengthAdjust="spacingAndGlyphs">0.9</text>
<text x="588.84" y="702.54" font-size="17.2" font-weight="normal" fill="#1e1e1e" textLength="26.26" lengthAdjust="spacingAndGlyphs">0.8</text>
<text x="588.84" y="773.66" font-size="17.2" font-weight="normal" fill="#1e1e1e" textLength="26.41" lengthAdjust="spacingAndGlyphs">0.7</text>
<text x="588.84" y="844.78" font-size="17.2" font-weight="normal" fill="#1e1e1e" textLength="26.26" lengthAdjust="spacingAndGlyphs">0.6</text>
<text x="588.85" y="915.90" font-size="17.2" font-weight="normal" fill="#1e1e1e" textLength="26.21" lengthAdjust="spacingAndGlyphs">0.5</text>
<text x="588.85" y="987.02" font-size="17.2" font-weight="normal" fill="#1e1e1e" textLength="25.96" lengthAdjust="spacingAndGlyphs">0.4</text>
<text transform="translate(572.70 804.20) rotate(-90)" x="-1.54" y="0" font-size="20.3" fill="#1e1e1e" textLength="39.42" lengthAdjust="spacingAndGlyphs">PCC</text>
<text x="555.01" y="554.20" font-size="26.5" font-weight="bold" fill="#000" textLength="19.72" lengthAdjust="spacingAndGlyphs" stroke="#000" stroke-width="0.9">d</text>
<text x="803.10" y="1069.70" font-size="19.6" font-weight="normal" fill="#1e1e1e" textLength="97.45" lengthAdjust="spacingAndGlyphs">Participant</text>
<path d="M651.4 628 V698.2 M651.4 787.2 V867.4" stroke="rgba(90,140,100,0.28)" stroke-width="1" fill="none"/>
<line x1="644.4" x2="658.4" y1="628" y2="628" stroke="rgba(90,140,100,0.28)" stroke-width="1"/>
<line x1="644.4" x2="658.4" y1="867.4" y2="867.4" stroke="rgba(90,140,100,0.28)" stroke-width="1"/>
<rect x="639.2" y="698.2" width="25.5" height="89.0" fill="rgba(115,180,125,0.24)" stroke="rgba(90,140,100,0.28)" stroke-width="1"/>
<line x1="639.2" x2="664.7" y1="746" y2="746" stroke="rgba(90,140,100,0.28)" stroke-width="1"/>
<path d="M696.4 632.3 V697.2 M696.4 820.3 V999.4" stroke="rgba(100,105,220,0.38)" stroke-width="1" fill="none"/>
<line x1="689.4" x2="703.4" y1="632.3" y2="632.3" stroke="rgba(100,105,220,0.38)" stroke-width="1"/>
<line x1="689.4" x2="703.4" y1="999.4" y2="999.4" stroke="rgba(100,105,220,0.38)" stroke-width="1"/>
<rect x="683.6" y="697.2" width="25.100000000000023" height="123.09999999999991" fill="rgba(120,125,250,0.30)" stroke="rgba(100,105,220,0.38)" stroke-width="1"/>
<line x1="683.6" x2="708.7" y1="745.3" y2="745.3" stroke="rgba(100,105,220,0.38)" stroke-width="1"/>
<path d="M740.4 590.5 V632.3 M740.4 690.3 V758.6" stroke="rgba(90,140,100,0.28)" stroke-width="1" fill="none"/>
<line x1="733.4" x2="747.4" y1="590.5" y2="590.5" stroke="rgba(90,140,100,0.28)" stroke-width="1"/>
<line x1="733.4" x2="747.4" y1="758.6" y2="758.6" stroke="rgba(90,140,100,0.28)" stroke-width="1"/>
<rect x="728" y="632.3" width="25.600000000000023" height="58.0" fill="rgba(115,180,125,0.24)" stroke="rgba(90,140,100,0.28)" stroke-width="1"/>
<line x1="728" x2="753.6" y1="652.5" y2="652.5" stroke="rgba(90,140,100,0.28)" stroke-width="1"/>
<path d="M785.6 606.8 V651.6 M785.6 711.2 V784.4" stroke="rgba(100,105,220,0.38)" stroke-width="1" fill="none"/>
<line x1="778.6" x2="792.6" y1="606.8" y2="606.8" stroke="rgba(100,105,220,0.38)" stroke-width="1"/>
<line x1="778.6" x2="792.6" y1="784.4" y2="784.4" stroke="rgba(100,105,220,0.38)" stroke-width="1"/>
<rect x="772.5" y="651.6" width="25.799999999999955" height="59.60000000000002" fill="rgba(120,125,250,0.30)" stroke="rgba(100,105,220,0.38)" stroke-width="1"/>
<line x1="772.5" x2="798.3" y1="675.5" y2="675.5" stroke="rgba(100,105,220,0.38)" stroke-width="1"/>
<path d="M829.7 580.6 V613.7 M829.7 643.3 V677" stroke="rgba(90,140,100,0.28)" stroke-width="1" fill="none"/>
<line x1="822.7" x2="836.7" y1="580.6" y2="580.6" stroke="rgba(90,140,100,0.28)" stroke-width="1"/>
<line x1="822.7" x2="836.7" y1="677" y2="677" stroke="rgba(90,140,100,0.28)" stroke-width="1"/>
<rect x="817.2" y="613.7" width="25.59999999999991" height="29.59999999999991" fill="rgba(115,180,125,0.24)" stroke="rgba(90,140,100,0.28)" stroke-width="1"/>
<line x1="817.2" x2="842.8" y1="628.9" y2="628.9" stroke="rgba(90,140,100,0.28)" stroke-width="1"/>
<path d="M874.8 582.1 V603.4 M874.8 638.2 V686.4" stroke="rgba(100,105,220,0.38)" stroke-width="1" fill="none"/>
<line x1="867.8" x2="881.8" y1="582.1" y2="582.1" stroke="rgba(100,105,220,0.38)" stroke-width="1"/>
<line x1="867.8" x2="881.8" y1="686.4" y2="686.4" stroke="rgba(100,105,220,0.38)" stroke-width="1"/>
<rect x="862.4" y="603.4" width="25.100000000000023" height="34.80000000000007" fill="rgba(120,125,250,0.30)" stroke="rgba(100,105,220,0.38)" stroke-width="1"/>
<line x1="862.4" x2="887.5" y1="626.2" y2="626.2" stroke="rgba(100,105,220,0.38)" stroke-width="1"/>
<path d="M919.4 604.1 V642.2 M919.4 724.7 V823" stroke="rgba(90,140,100,0.28)" stroke-width="1" fill="none"/>
<line x1="912.4" x2="926.4" y1="604.1" y2="604.1" stroke="rgba(90,140,100,0.28)" stroke-width="1"/>
<line x1="912.4" x2="926.4" y1="823" y2="823" stroke="rgba(90,140,100,0.28)" stroke-width="1"/>
<rect x="906.6" y="642.2" width="25.899999999999977" height="82.5" fill="rgba(115,180,125,0.24)" stroke="rgba(90,140,100,0.28)" stroke-width="1"/>
<line x1="906.6" x2="932.5" y1="659" y2="659" stroke="rgba(90,140,100,0.28)" stroke-width="1"/>
<path d="M964.1 607.2 V640.3 M964.1 702.3 V785.4" stroke="rgba(100,105,220,0.38)" stroke-width="1" fill="none"/>
<line x1="957.1" x2="971.1" y1="607.2" y2="607.2" stroke="rgba(100,105,220,0.38)" stroke-width="1"/>
<line x1="957.1" x2="971.1" y1="785.4" y2="785.4" stroke="rgba(100,105,220,0.38)" stroke-width="1"/>
<rect x="951.2" y="640.3" width="25.59999999999991" height="62.0" fill="rgba(120,125,250,0.30)" stroke="rgba(100,105,220,0.38)" stroke-width="1"/>
<line x1="951.2" x2="976.8" y1="676.3" y2="676.3" stroke="rgba(100,105,220,0.38)" stroke-width="1"/>
<path d="M1008.6 593.4 V640.2 M1008.6 718.5 V779.7" stroke="rgba(90,140,100,0.28)" stroke-width="1" fill="none"/>
<line x1="1001.6" x2="1015.6" y1="593.4" y2="593.4" stroke="rgba(90,140,100,0.28)" stroke-width="1"/>
<line x1="1001.6" x2="1015.6" y1="779.7" y2="779.7" stroke="rgba(90,140,100,0.28)" stroke-width="1"/>
<rect x="996.2" y="640.2" width="25.299999999999955" height="78.29999999999995" fill="rgba(115,180,125,0.24)" stroke="rgba(90,140,100,0.28)" stroke-width="1"/>
<line x1="996.2" x2="1021.5" y1="676.6" y2="676.6" stroke="rgba(90,140,100,0.28)" stroke-width="1"/>
<path d="M1053.3 609.6 V628.6 M1053.3 692.6 V767.9" stroke="rgba(100,105,220,0.38)" stroke-width="1" fill="none"/>
<line x1="1046.3" x2="1060.3" y1="609.6" y2="609.6" stroke="rgba(100,105,220,0.38)" stroke-width="1"/>
<line x1="1046.3" x2="1060.3" y1="767.9" y2="767.9" stroke="rgba(100,105,220,0.38)" stroke-width="1"/>
<rect x="1040.4" y="628.6" width="25.5" height="64.0" fill="rgba(120,125,250,0.30)" stroke="rgba(100,105,220,0.38)" stroke-width="1"/>
<line x1="1040.4" x2="1065.9" y1="665.5" y2="665.5" stroke="rgba(100,105,220,0.38)" stroke-width="1"/>
<circle cx="650.1" cy="627.5" r="1.45" fill="#080808"/>
<circle cx="652.9" cy="633.4" r="1.45" fill="#080808"/>
<circle cx="649.2" cy="647.6" r="1.45" fill="#080808"/>
<circle cx="651.4" cy="652.6" r="1.45" fill="#080808"/>
<circle cx="653.4" cy="653.1" r="1.45" fill="#080808"/>
<circle cx="650.1" cy="657.6" r="1.45" fill="#080808"/>
<circle cx="648.7" cy="659.3" r="1.45" fill="#080808"/>
<circle cx="650.4" cy="665.2" r="1.45" fill="#080808"/>
<circle cx="651.4" cy="671.5" r="1.45" fill="#080808"/>
<circle cx="649.2" cy="688.9" r="1.45" fill="#080808"/>
<circle cx="653.1" cy="687.7" r="1.45" fill="#080808"/>
<circle cx="652.6" cy="697" r="1.45" fill="#080808"/>
<circle cx="651.4" cy="698.6" r="1.45" fill="#080808"/>
<circle cx="650.4" cy="703.6" r="1.45" fill="#080808"/>
<circle cx="652.6" cy="708.7" r="1.45" fill="#080808"/>
<circle cx="648.7" cy="721.2" r="1.45" fill="#080808"/>
<circle cx="648.7" cy="730.7" r="1.45" fill="#080808"/>
<circle cx="653.1" cy="730.7" r="1.45" fill="#080808"/>
<circle cx="650.1" cy="735.4" r="1.45" fill="#080808"/>
<circle cx="652.4" cy="738.8" r="1.45" fill="#080808"/>
<circle cx="650.1" cy="744.6" r="1.45" fill="#080808"/>
<circle cx="649.7" cy="750.5" r="1.45" fill="#080808"/>
<circle cx="651.7" cy="758" r="1.45" fill="#080808"/>
<circle cx="648.7" cy="774.7" r="1.45" fill="#080808"/>
<circle cx="650.9" cy="774.7" r="1.45" fill="#080808"/>
<circle cx="650.9" cy="781.4" r="1.45" fill="#080808"/>
<circle cx="654.3" cy="782.3" r="1.45" fill="#080808"/>
<circle cx="649.2" cy="784.8" r="1.45" fill="#080808"/>
<circle cx="652.6" cy="787.3" r="1.45" fill="#080808"/>
<circle cx="650.9" cy="793.1" r="1.45" fill="#080808"/>
<circle cx="652.2" cy="797.3" r="1.45" fill="#080808"/>
<circle cx="650.3" cy="793.9" r="1.45" fill="#080808"/>
<circle cx="652.4" cy="797.5" r="1.45" fill="#080808"/>
<circle cx="649.7" cy="805" r="1.45" fill="#080808"/>
<circle cx="650.7" cy="828.5" r="1.45" fill="#080808"/>
<circle cx="652.4" cy="840.5" r="1.45" fill="#080808"/>
<circle cx="651.4" cy="849.5" r="1.45" fill="#080808"/>
<circle cx="649.7" cy="853.3" r="1.45" fill="#080808"/>
<circle cx="653.5" cy="857" r="1.45" fill="#080808"/>
<circle cx="649.7" cy="858" r="1.45" fill="#080808"/>
<circle cx="653.1" cy="867.2" r="1.45" fill="#080808"/>
<circle cx="697.7" cy="632.5" r="1.45" fill="#080808"/>
<circle cx="695.7" cy="638.7" r="1.45" fill="#080808"/>
<circle cx="694.4" cy="648.4" r="1.45" fill="#080808"/>
<circle cx="697.4" cy="656" r="1.45" fill="#080808"/>
<circle cx="696.6" cy="662.3" r="1.45" fill="#080808"/>
<circle cx="694.7" cy="666.5" r="1.45" fill="#080808"/>
<circle cx="698.3" cy="677.2" r="1.45" fill="#080808"/>
<circle cx="695.2" cy="681.6" r="1.45" fill="#080808"/>
<circle cx="694.9" cy="684.9" r="1.45" fill="#080808"/>
<circle cx="696.9" cy="689.9" r="1.45" fill="#080808"/>
<circle cx="693.6" cy="697" r="1.45" fill="#080808"/>
<circle cx="696.6" cy="697" r="1.45" fill="#080808"/>
<circle cx="696.6" cy="716.7" r="1.45" fill="#080808"/>
<circle cx="693.6" cy="720" r="1.45" fill="#080808"/>
<circle cx="694.4" cy="727.4" r="1.45" fill="#080808"/>
<circle cx="693.2" cy="732.9" r="1.45" fill="#080808"/>
<circle cx="695.6" cy="734.6" r="1.45" fill="#080808"/>
<circle cx="697.4" cy="737.9" r="1.45" fill="#080808"/>
<circle cx="695.2" cy="741.3" r="1.45" fill="#080808"/>
<circle cx="698.6" cy="741.3" r="1.45" fill="#080808"/>
<circle cx="693.9" cy="751.3" r="1.45" fill="#080808"/>
<circle cx="698.6" cy="755.5" r="1.45" fill="#080808"/>
<circle cx="693.9" cy="759.7" r="1.45" fill="#080808"/>
<circle cx="698.3" cy="762.2" r="1.45" fill="#080808"/>
<circle cx="696.1" cy="771.4" r="1.45" fill="#080808"/>
<circle cx="696.9" cy="783.1" r="1.45" fill="#080808"/>
<circle cx="694.4" cy="785.6" r="1.45" fill="#080808"/>
<circle cx="694.1" cy="785.3" r="1.45" fill="#080808"/>
<circle cx="697.3" cy="783.8" r="1.45" fill="#080808"/>
<circle cx="698.4" cy="803.5" r="1.45" fill="#080808"/>
<circle cx="696.7" cy="806.7" r="1.45" fill="#080808"/>
<circle cx="695.2" cy="820.6" r="1.45" fill="#080808"/>
<circle cx="698" cy="821" r="1.45" fill="#080808"/>
<circle cx="696.7" cy="830.7" r="1.45" fill="#080808"/>
<circle cx="695.2" cy="836" r="1.45" fill="#080808"/>
<circle cx="697.3" cy="838.8" r="1.45" fill="#080808"/>
<circle cx="694.6" cy="839.9" r="1.45" fill="#080808"/>
<circle cx="696.7" cy="863.8" r="1.45" fill="#080808"/>
<circle cx="697.3" cy="889.7" r="1.45" fill="#080808"/>
<circle cx="694.8" cy="898" r="1.45" fill="#080808"/>
<circle cx="696.7" cy="962.8" r="1.45" fill="#080808"/>
<circle cx="696.3" cy="999.5" r="1.45" fill="#080808"/>
<circle cx="741.6" cy="590.6" r="1.45" fill="#080808"/>
<circle cx="739.4" cy="604.2" r="1.45" fill="#080808"/>
<circle cx="741.2" cy="613.2" r="1.45" fill="#080808"/>
<circle cx="739.8" cy="616.2" r="1.45" fill="#080808"/>
<circle cx="737.7" cy="622.4" r="1.45" fill="#080808"/>
<circle cx="742.1" cy="622.4" r="1.45" fill="#080808"/>
<circle cx="739.8" cy="629.9" r="1.45" fill="#080808"/>
<circle cx="738.6" cy="633.9" r="1.45" fill="#080808"/>
<circle cx="742.6" cy="634.8" r="1.45" fill="#080808"/>
<circle cx="741.2" cy="641" r="1.45" fill="#080808"/>
<circle cx="739.4" cy="645.8" r="1.45" fill="#080808"/>
<circle cx="742.1" cy="646.3" r="1.45" fill="#080808"/>
<circle cx="739.4" cy="651.6" r="1.45" fill="#080808"/>
<circle cx="741.6" cy="654.3" r="1.45" fill="#080808"/>
<circle cx="740.3" cy="661.3" r="1.45" fill="#080808"/>
<circle cx="738.6" cy="668.4" r="1.45" fill="#080808"/>
<circle cx="742.6" cy="671" r="1.45" fill="#080808"/>
<circle cx="739.8" cy="675.5" r="1.45" fill="#080808"/>
<circle cx="741.2" cy="679.9" r="1.45" fill="#080808"/>
<circle cx="739.4" cy="684.3" r="1.45" fill="#080808"/>
<circle cx="738.6" cy="689.6" r="1.45" fill="#080808"/>
<circle cx="742.6" cy="698.5" r="1.45" fill="#080808"/>
<circle cx="740.3" cy="703.8" r="1.45" fill="#080808"/>
<circle cx="741.2" cy="708.2" r="1.45" fill="#080808"/>
<circle cx="739.1" cy="710.5" r="1.45" fill="#080808"/>
<circle cx="741.2" cy="717.9" r="1.45" fill="#080808"/>
<circle cx="739.4" cy="720.6" r="1.45" fill="#080808"/>
<circle cx="742.1" cy="734.2" r="1.45" fill="#080808"/>
<circle cx="741.6" cy="741.8" r="1.45" fill="#080808"/>
<circle cx="741.2" cy="746.2" r="1.45" fill="#080808"/>
<circle cx="740.3" cy="750.6" r="1.45" fill="#080808"/>
<circle cx="739.4" cy="758.6" r="1.45" fill="#080808"/>
<circle cx="786.8" cy="606.9" r="1.45" fill="#080808"/>
<circle cx="785.8" cy="619.8" r="1.45" fill="#080808"/>
<circle cx="787.2" cy="623.3" r="1.45" fill="#080808"/>
<circle cx="785.4" cy="629.5" r="1.45" fill="#080808"/>
<circle cx="784" cy="636.6" r="1.45" fill="#080808"/>
<circle cx="785.8" cy="639.2" r="1.45" fill="#080808"/>
<circle cx="787.2" cy="641.9" r="1.45" fill="#080808"/>
<circle cx="784.5" cy="652.1" r="1.45" fill="#080808"/>
<circle cx="787.5" cy="655.1" r="1.45" fill="#080808"/>
<circle cx="789" cy="657.8" r="1.45" fill="#080808"/>
<circle cx="783.6" cy="663.1" r="1.45" fill="#080808"/>
<circle cx="787.2" cy="668" r="1.45" fill="#080808"/>
<circle cx="783.6" cy="671.9" r="1.45" fill="#080808"/>
<circle cx="788.1" cy="675.5" r="1.45" fill="#080808"/>
<circle cx="785.8" cy="678.1" r="1.45" fill="#080808"/>
<circle cx="784.5" cy="683.4" r="1.45" fill="#080808"/>
<circle cx="789" cy="686.1" r="1.45" fill="#080808"/>
<circle cx="786.3" cy="693.2" r="1.45" fill="#080808"/>
<circle cx="783.6" cy="696.7" r="1.45" fill="#080808"/>
<circle cx="787.2" cy="697.6" r="1.45" fill="#080808"/>
<circle cx="784" cy="703.8" r="1.45" fill="#080808"/>
<circle cx="787.2" cy="707.3" r="1.45" fill="#080808"/>
<circle cx="788.1" cy="711.7" r="1.45" fill="#080808"/>
<circle cx="785.4" cy="715.3" r="1.45" fill="#080808"/>
<circle cx="787.2" cy="716.1" r="1.45" fill="#080808"/>
<circle cx="786.3" cy="721.4" r="1.45" fill="#080808"/>
<circle cx="786.8" cy="724.1" r="1.45" fill="#080808"/>
<circle cx="785.8" cy="729.4" r="1.45" fill="#080808"/>
<circle cx="784" cy="747.6" r="1.45" fill="#080808"/>
<circle cx="785.5" cy="782" r="1.45" fill="#080808"/>
<circle cx="785.5" cy="784.4" r="1.45" fill="#080808"/>
<circle cx="785" cy="825.6" r="1.45" fill="#080808"/>
<circle cx="786" cy="827.3" r="1.45" fill="#080808"/>
<circle cx="785.8" cy="913.5" r="1.45" fill="#080808"/>
<circle cx="829.8" cy="580.6" r="1.45" fill="#080808"/>
<circle cx="831" cy="587" r="1.45" fill="#080808"/>
<circle cx="829.8" cy="598.8" r="1.45" fill="#080808"/>
<circle cx="831" cy="603.9" r="1.45" fill="#080808"/>
<circle cx="832.2" cy="606.9" r="1.45" fill="#080808"/>
<circle cx="828.6" cy="608.7" r="1.45" fill="#080808"/>
<circle cx="833.4" cy="610" r="1.45" fill="#080808"/>
<circle cx="830.4" cy="611.7" r="1.45" fill="#080808"/>
<circle cx="828" cy="613.5" r="1.45" fill="#080808"/>
<circle cx="832.2" cy="615.4" r="1.45" fill="#080808"/>
<circle cx="829.2" cy="617.2" r="1.45" fill="#080808"/>
<circle cx="831" cy="619" r="1.45" fill="#080808"/>
<circle cx="828" cy="620.8" r="1.45" fill="#080808"/>
<circle cx="832.2" cy="622" r="1.45" fill="#080808"/>
<circle cx="829.2" cy="623.8" r="1.45" fill="#080808"/>
<circle cx="827.4" cy="625.6" r="1.45" fill="#080808"/>
<circle cx="831.6" cy="626.2" r="1.45" fill="#080808"/>
<circle cx="829.8" cy="628.1" r="1.45" fill="#080808"/>
<circle cx="828" cy="630.5" r="1.45" fill="#080808"/>
<circle cx="832.2" cy="631.1" r="1.45" fill="#080808"/>
<circle cx="830.4" cy="633.5" r="1.45" fill="#080808"/>
<circle cx="827.4" cy="635.9" r="1.45" fill="#080808"/>
<circle cx="831" cy="637.7" r="1.45" fill="#080808"/>
<circle cx="828.6" cy="639.6" r="1.45" fill="#080808"/>
<circle cx="831" cy="641.4" r="1.45" fill="#080808"/>
<circle cx="828" cy="643.2" r="1.45" fill="#080808"/>
<circle cx="830.4" cy="646.8" r="1.45" fill="#080808"/>
<circle cx="831" cy="648.6" r="1.45" fill="#080808"/>
<circle cx="830.4" cy="653.5" r="1.45" fill="#080808"/>
<circle cx="829.8" cy="663.1" r="1.45" fill="#080808"/>
<circle cx="829.2" cy="676.4" r="1.45" fill="#080808"/>
<circle cx="828.6" cy="677" r="1.45" fill="#080808"/>
<circle cx="740.5" cy="608" r="1.45" fill="#080808"/>
<circle cx="741.8" cy="619" r="1.45" fill="#080808"/>
<circle cx="738.8" cy="626" r="1.45" fill="#080808"/>
<circle cx="740.8" cy="637" r="1.45" fill="#080808"/>
<circle cx="739" cy="643" r="1.45" fill="#080808"/>
<circle cx="741.5" cy="649" r="1.45" fill="#080808"/>
<circle cx="739.5" cy="657" r="1.45" fill="#080808"/>
<circle cx="741" cy="664" r="1.45" fill="#080808"/>
<circle cx="739.2" cy="672" r="1.45" fill="#080808"/>
<circle cx="741.5" cy="682" r="1.45" fill="#080808"/>
<circle cx="739.8" cy="694" r="1.45" fill="#080808"/>
<circle cx="741" cy="714" r="1.45" fill="#080808"/>
<circle cx="740.5" cy="726" r="1.45" fill="#080808"/>
<circle cx="740" cy="738" r="1.45" fill="#080808"/>
<circle cx="786" cy="613" r="1.45" fill="#080808"/>
<circle cx="784.8" cy="626" r="1.45" fill="#080808"/>
<circle cx="786.5" cy="633" r="1.45" fill="#080808"/>
<circle cx="785" cy="646" r="1.45" fill="#080808"/>
<circle cx="787" cy="660" r="1.45" fill="#080808"/>
<circle cx="784.5" cy="666" r="1.45" fill="#080808"/>
<circle cx="786.5" cy="680" r="1.45" fill="#080808"/>
<circle cx="785" cy="689" r="1.45" fill="#080808"/>
<circle cx="787.2" cy="700" r="1.45" fill="#080808"/>
<circle cx="785.5" cy="712" r="1.45" fill="#080808"/>
<circle cx="786" cy="736" r="1.45" fill="#080808"/>
<circle cx="651" cy="640" r="1.45" fill="#080808"/>
<circle cx="650" cy="678" r="1.45" fill="#080808"/>
<circle cx="652" cy="715" r="1.45" fill="#080808"/>
<circle cx="650.5" cy="726" r="1.45" fill="#080808"/>
<circle cx="651.5" cy="765" r="1.45" fill="#080808"/>
<circle cx="650" cy="771" r="1.45" fill="#080808"/>
<circle cx="696" cy="645" r="1.45" fill="#080808"/>
<circle cx="695.5" cy="672" r="1.45" fill="#080808"/>
<circle cx="697" cy="693" r="1.45" fill="#080808"/>
<circle cx="695" cy="707" r="1.45" fill="#080808"/>
<circle cx="696.5" cy="746" r="1.45" fill="#080808"/>
<circle cx="695.5" cy="766" r="1.45" fill="#080808"/>
<circle cx="697" cy="777" r="1.45" fill="#080808"/>
<circle cx="696" cy="812" r="1.45" fill="#080808"/>
<circle cx="830.6" cy="604.5" r="1.45" fill="#080808"/>
<circle cx="829" cy="607" r="1.45" fill="#080808"/>
<circle cx="832" cy="613" r="1.45" fill="#080808"/>
<circle cx="829.5" cy="616" r="1.45" fill="#080808"/>
<circle cx="831.8" cy="618.5" r="1.45" fill="#080808"/>
<circle cx="828.6" cy="622.8" r="1.45" fill="#080808"/>
<circle cx="831.2" cy="624.5" r="1.45" fill="#080808"/>
<circle cx="829" cy="627" r="1.45" fill="#080808"/>
<circle cx="831.8" cy="629.5" r="1.45" fill="#080808"/>
<circle cx="828.4" cy="632.5" r="1.45" fill="#080808"/>
<circle cx="831.5" cy="634.5" r="1.45" fill="#080808"/>
<circle cx="829.6" cy="637" r="1.45" fill="#080808"/>
<circle cx="832.2" cy="639" r="1.45" fill="#080808"/>
<circle cx="829.2" cy="642" r="1.45" fill="#080808"/>
<circle cx="831.4" cy="645" r="1.45" fill="#080808"/>
<circle cx="829.5" cy="651" r="1.45" fill="#080808"/>
<circle cx="830.8" cy="657" r="1.45" fill="#080808"/>
<circle cx="830" cy="669" r="1.45" fill="#080808"/>
<circle cx="873.5" cy="592" r="1.45" fill="#080808"/>
<circle cx="875.5" cy="595" r="1.45" fill="#080808"/>
<circle cx="872.8" cy="599" r="1.45" fill="#080808"/>
<circle cx="875" cy="601.5" r="1.45" fill="#080808"/>
<circle cx="873" cy="604" r="1.45" fill="#080808"/>
<circle cx="875.8" cy="607" r="1.45" fill="#080808"/>
<circle cx="873.5" cy="610" r="1.45" fill="#080808"/>
<circle cx="874.8" cy="613" r="1.45" fill="#080808"/>
<circle cx="872.8" cy="616" r="1.45" fill="#080808"/>
<circle cx="875.5" cy="619" r="1.45" fill="#080808"/>
<circle cx="873.6" cy="622" r="1.45" fill="#080808"/>
<circle cx="875" cy="624" r="1.45" fill="#080808"/>
<circle cx="872.6" cy="627" r="1.45" fill="#080808"/>
<circle cx="875.6" cy="630" r="1.45" fill="#080808"/>
<circle cx="873" cy="633" r="1.45" fill="#080808"/>
<circle cx="875" cy="638" r="1.45" fill="#080808"/>
<circle cx="873.5" cy="641" r="1.45" fill="#080808"/>
<circle cx="875.8" cy="644" r="1.45" fill="#080808"/>
<circle cx="873.2" cy="648" r="1.45" fill="#080808"/>
<circle cx="874.8" cy="652" r="1.45" fill="#080808"/>
<circle cx="873.5" cy="655" r="1.45" fill="#080808"/>
<circle cx="875" cy="659" r="1.45" fill="#080808"/>
<circle cx="874" cy="663" r="1.45" fill="#080808"/>
<circle cx="874.5" cy="672" r="1.45" fill="#080808"/>
<circle cx="874" cy="676" r="1.45" fill="#080808"/>
<circle cx="873.9" cy="582.1" r="1.45" fill="#080808"/>
<circle cx="874.6" cy="593.6" r="1.45" fill="#080808"/>
<circle cx="872.7" cy="596" r="1.45" fill="#080808"/>
<circle cx="875.8" cy="597.8" r="1.45" fill="#080808"/>
<circle cx="873.3" cy="600.2" r="1.45" fill="#080808"/>
<circle cx="876.4" cy="602.7" r="1.45" fill="#080808"/>
<circle cx="874" cy="605.1" r="1.45" fill="#080808"/>
<circle cx="872.1" cy="608.7" r="1.45" fill="#080808"/>
<circle cx="875.2" cy="611.1" r="1.45" fill="#080808"/>
<circle cx="873.3" cy="614.2" r="1.45" fill="#080808"/>
<circle cx="876.4" cy="617.2" r="1.45" fill="#080808"/>
<circle cx="874" cy="619.6" r="1.45" fill="#080808"/>
<circle cx="872.1" cy="623.2" r="1.45" fill="#080808"/>
<circle cx="875.8" cy="625.6" r="1.45" fill="#080808"/>
<circle cx="873.3" cy="628.1" r="1.45" fill="#080808"/>
<circle cx="875.2" cy="631.7" r="1.45" fill="#080808"/>
<circle cx="872.7" cy="634.1" r="1.45" fill="#080808"/>
<circle cx="876.4" cy="636.5" r="1.45" fill="#080808"/>
<circle cx="874" cy="639" r="1.45" fill="#080808"/>
<circle cx="872.1" cy="642.6" r="1.45" fill="#080808"/>
<circle cx="875.2" cy="646.2" r="1.45" fill="#080808"/>
<circle cx="873.3" cy="649.8" r="1.45" fill="#080808"/>
<circle cx="875.8" cy="653.5" r="1.45" fill="#080808"/>
<circle cx="874" cy="657.1" r="1.45" fill="#080808"/>
<circle cx="875.2" cy="660.7" r="1.45" fill="#080808"/>
<circle cx="874.6" cy="665.6" r="1.45" fill="#080808"/>
<circle cx="874" cy="668" r="1.45" fill="#080808"/>
<circle cx="875.2" cy="686.4" r="1.45" fill="#080808"/>
<circle cx="919" cy="628.5" r="1.45" fill="#080808"/>
<circle cx="921" cy="633.5" r="1.45" fill="#080808"/>
<circle cx="917.8" cy="639.5" r="1.45" fill="#080808"/>
<circle cx="920.8" cy="646" r="1.45" fill="#080808"/>
<circle cx="918.6" cy="651" r="1.45" fill="#080808"/>
<circle cx="921" cy="655" r="1.45" fill="#080808"/>
<circle cx="919.4" cy="668" r="1.45" fill="#080808"/>
<circle cx="920.5" cy="675" r="1.45" fill="#080808"/>
<circle cx="918.5" cy="686" r="1.45" fill="#080808"/>
<circle cx="919.5" cy="720" r="1.45" fill="#080808"/>
<circle cx="921" cy="731" r="1.45" fill="#080808"/>
<circle cx="963" cy="609" r="1.45" fill="#080808"/>
<circle cx="965.5" cy="619.5" r="1.45" fill="#080808"/>
<circle cx="962.8" cy="632" r="1.45" fill="#080808"/>
<circle cx="965" cy="639" r="1.45" fill="#080808"/>
<circle cx="963.5" cy="644" r="1.45" fill="#080808"/>
<circle cx="962.6" cy="654" r="1.45" fill="#080808"/>
<circle cx="965.2" cy="660" r="1.45" fill="#080808"/>
<circle cx="963.5" cy="670" r="1.45" fill="#080808"/>
<circle cx="965" cy="677" r="1.45" fill="#080808"/>
<circle cx="962.8" cy="693" r="1.45" fill="#080808"/>
<circle cx="965.2" cy="703" r="1.45" fill="#080808"/>
<circle cx="963.2" cy="716" r="1.45" fill="#080808"/>
<circle cx="965" cy="728" r="1.45" fill="#080808"/>
<circle cx="1008.5" cy="597" r="1.45" fill="#080808"/>
<circle cx="1010" cy="604" r="1.45" fill="#080808"/>
<circle cx="1007.5" cy="610" r="1.45" fill="#080808"/>
<circle cx="1009.8" cy="622" r="1.45" fill="#080808"/>
<circle cx="1007" cy="636" r="1.45" fill="#080808"/>
<circle cx="1009.6" cy="648" r="1.45" fill="#080808"/>
<circle cx="1007.8" cy="663" r="1.45" fill="#080808"/>
<circle cx="1010" cy="679" r="1.45" fill="#080808"/>
<circle cx="1008.2" cy="699" r="1.45" fill="#080808"/>
<circle cx="1053" cy="611" r="1.45" fill="#080808"/>
<circle cx="1055.5" cy="620" r="1.45" fill="#080808"/>
<circle cx="1052.5" cy="631" r="1.45" fill="#080808"/>
<circle cx="1054.8" cy="636" r="1.45" fill="#080808"/>
<circle cx="1052" cy="650" r="1.45" fill="#080808"/>
<circle cx="1054.5" cy="658" r="1.45" fill="#080808"/>
<circle cx="1053" cy="673" r="1.45" fill="#080808"/>
<circle cx="1055" cy="682" r="1.45" fill="#080808"/>
<circle cx="1052.6" cy="697" r="1.45" fill="#080808"/>
<circle cx="919.4" cy="604.1" r="1.45" fill="#080808"/>
<circle cx="918.9" cy="621" r="1.45" fill="#080808"/>
<circle cx="918" cy="630.7" r="1.45" fill="#080808"/>
<circle cx="920.6" cy="631" r="1.45" fill="#080808"/>
<circle cx="918" cy="636" r="1.45" fill="#080808"/>
<circle cx="919.8" cy="638.6" r="1.45" fill="#080808"/>
<circle cx="921.5" cy="641.3" r="1.45" fill="#080808"/>
<circle cx="917.6" cy="643" r="1.45" fill="#080808"/>
<circle cx="919.8" cy="644.8" r="1.45" fill="#080808"/>
<circle cx="917.1" cy="647.5" r="1.45" fill="#080808"/>
<circle cx="919.8" cy="649.2" r="1.45" fill="#080808"/>
<circle cx="921.5" cy="652.8" r="1.45" fill="#080808"/>
<circle cx="918" cy="657.2" r="1.45" fill="#080808"/>
<circle cx="918.9" cy="662.5" r="1.45" fill="#080808"/>
<circle cx="920.6" cy="671.3" r="1.45" fill="#080808"/>
<circle cx="919.8" cy="678.4" r="1.45" fill="#080808"/>
<circle cx="918.9" cy="682.8" r="1.45" fill="#080808"/>
<circle cx="921.2" cy="687.2" r="1.45" fill="#080808"/>
<circle cx="918" cy="691.7" r="1.45" fill="#080808"/>
<circle cx="920.1" cy="714.6" r="1.45" fill="#080808"/>
<circle cx="918.3" cy="723.5" r="1.45" fill="#080808"/>
<circle cx="919.8" cy="726.1" r="1.45" fill="#080808"/>
<circle cx="918.9" cy="729.7" r="1.45" fill="#080808"/>
<circle cx="918" cy="733.2" r="1.45" fill="#080808"/>
<circle cx="919.8" cy="736.7" r="1.45" fill="#080808"/>
<circle cx="918.9" cy="765" r="1.45" fill="#080808"/>
<circle cx="919.8" cy="775.6" r="1.45" fill="#080808"/>
<circle cx="919" cy="765.1" r="1.45" fill="#080808"/>
<circle cx="920.4" cy="802.5" r="1.45" fill="#080808"/>
<circle cx="919.8" cy="812.2" r="1.45" fill="#080808"/>
<circle cx="920.7" cy="816.2" r="1.45" fill="#080808"/>
<circle cx="919" cy="823" r="1.45" fill="#080808"/>
<circle cx="964" cy="607.1" r="1.45" fill="#080808"/>
<circle cx="965.7" cy="610.3" r="1.45" fill="#080808"/>
<circle cx="962.2" cy="613.9" r="1.45" fill="#080808"/>
<circle cx="964.8" cy="617.4" r="1.45" fill="#080808"/>
<circle cx="966.1" cy="621.8" r="1.45" fill="#080808"/>
<circle cx="964" cy="624.5" r="1.45" fill="#080808"/>
<circle cx="962.2" cy="627.1" r="1.45" fill="#080808"/>
<circle cx="964" cy="629.8" r="1.45" fill="#080808"/>
<circle cx="965.7" cy="636" r="1.45" fill="#080808"/>
<circle cx="962.2" cy="642.2" r="1.45" fill="#080808"/>
<circle cx="964.3" cy="646.6" r="1.45" fill="#080808"/>
<circle cx="965.7" cy="651" r="1.45" fill="#080808"/>
<circle cx="963.1" cy="657.2" r="1.45" fill="#080808"/>
<circle cx="964.8" cy="666" r="1.45" fill="#080808"/>
<circle cx="965.7" cy="673.1" r="1.45" fill="#080808"/>
<circle cx="964" cy="680.2" r="1.45" fill="#080808"/>
<circle cx="963.1" cy="686.4" r="1.45" fill="#080808"/>
<circle cx="965.7" cy="689" r="1.45" fill="#080808"/>
<circle cx="964" cy="699.6" r="1.45" fill="#080808"/>
<circle cx="963.1" cy="706.7" r="1.45" fill="#080808"/>
<circle cx="965.7" cy="712" r="1.45" fill="#080808"/>
<circle cx="962.2" cy="721.7" r="1.45" fill="#080808"/>
<circle cx="964" cy="733.2" r="1.45" fill="#080808"/>
<circle cx="964.8" cy="740.3" r="1.45" fill="#080808"/>
<circle cx="964" cy="751.8" r="1.45" fill="#080808"/>
<circle cx="964.4" cy="785.4" r="1.45" fill="#080808"/>
<circle cx="963" cy="810.5" r="1.45" fill="#080808"/>
<circle cx="964.4" cy="815.2" r="1.45" fill="#080808"/>
<circle cx="1010.7" cy="593.6" r="1.45" fill="#080808"/>
<circle cx="1007.6" cy="600.3" r="1.45" fill="#080808"/>
<circle cx="1010.5" cy="600.6" r="1.45" fill="#080808"/>
<circle cx="1006.5" cy="606.7" r="1.45" fill="#080808"/>
<circle cx="1011" cy="613.4" r="1.45" fill="#080808"/>
<circle cx="1006" cy="617.9" r="1.45" fill="#080808"/>
<circle cx="1008.8" cy="617.9" r="1.45" fill="#080808"/>
<circle cx="1008.5" cy="627.4" r="1.45" fill="#080808"/>
<circle cx="1011" cy="631.3" r="1.45" fill="#080808"/>
<circle cx="1009.3" cy="634.6" r="1.45" fill="#080808"/>
<circle cx="1006.8" cy="640.5" r="1.45" fill="#080808"/>
<circle cx="1010.7" cy="640.5" r="1.45" fill="#080808"/>
<circle cx="1009.3" cy="645.2" r="1.45" fill="#080808"/>
<circle cx="1008.1" cy="651.9" r="1.45" fill="#080808"/>
<circle cx="1008.5" cy="655.6" r="1.45" fill="#080808"/>
<circle cx="1006" cy="660.3" r="1.45" fill="#080808"/>
<circle cx="1007.6" cy="666" r="1.45" fill="#080808"/>
<circle cx="1006" cy="670.7" r="1.45" fill="#080808"/>
<circle cx="1009.3" cy="670.7" r="1.45" fill="#080808"/>
<circle cx="1010.2" cy="674" r="1.45" fill="#080808"/>
<circle cx="1007.6" cy="676" r="1.45" fill="#080808"/>
<circle cx="1006" cy="680.7" r="1.45" fill="#080808"/>
<circle cx="1010.2" cy="683.7" r="1.45" fill="#080808"/>
<circle cx="1007.6" cy="687.4" r="1.45" fill="#080808"/>
<circle cx="1006" cy="689.9" r="1.45" fill="#080808"/>
<circle cx="1011" cy="691.6" r="1.45" fill="#080808"/>
<circle cx="1007.7" cy="694.6" r="1.45" fill="#080808"/>
<circle cx="1010.3" cy="703.5" r="1.45" fill="#080808"/>
<circle cx="1006.7" cy="707.7" r="1.45" fill="#080808"/>
<circle cx="1009.5" cy="712.3" r="1.45" fill="#080808"/>
<circle cx="1007.2" cy="715.6" r="1.45" fill="#080808"/>
<circle cx="1008.1" cy="718.4" r="1.45" fill="#080808"/>
<circle cx="1010.6" cy="718.8" r="1.45" fill="#080808"/>
<circle cx="1008.1" cy="725.8" r="1.45" fill="#080808"/>
<circle cx="1006.3" cy="729" r="1.45" fill="#080808"/>
<circle cx="1008.4" cy="735.7" r="1.45" fill="#080808"/>
<circle cx="1007.5" cy="747.5" r="1.45" fill="#080808"/>
<circle cx="1008.6" cy="754.2" r="1.45" fill="#080808"/>
<circle cx="1008.6" cy="764.4" r="1.45" fill="#080808"/>
<circle cx="1009.1" cy="765.5" r="1.45" fill="#080808"/>
<circle cx="1008.4" cy="779.7" r="1.45" fill="#080808"/>
<circle cx="1007.7" cy="838" r="1.45" fill="#080808"/>
<circle cx="1008.9" cy="905.1" r="1.45" fill="#080808"/>
<circle cx="1051.7" cy="609.5" r="1.45" fill="#080808"/>
<circle cx="1054.5" cy="612.9" r="1.45" fill="#080808"/>
<circle cx="1056.2" cy="616.2" r="1.45" fill="#080808"/>
<circle cx="1052" cy="617.9" r="1.45" fill="#080808"/>
<circle cx="1053.7" cy="621.7" r="1.45" fill="#080808"/>
<circle cx="1051.2" cy="623.8" r="1.45" fill="#080808"/>
<circle cx="1056.2" cy="626.3" r="1.45" fill="#080808"/>
<circle cx="1052" cy="628.8" r="1.45" fill="#080808"/>
<circle cx="1053.7" cy="633" r="1.45" fill="#080808"/>
<circle cx="1050.4" cy="633.8" r="1.45" fill="#080808"/>
<circle cx="1055" cy="638" r="1.45" fill="#080808"/>
<circle cx="1051.2" cy="639.7" r="1.45" fill="#080808"/>
<circle cx="1055.4" cy="641.3" r="1.45" fill="#080808"/>
<circle cx="1052.9" cy="644.7" r="1.45" fill="#080808"/>
<circle cx="1056.2" cy="646.4" r="1.45" fill="#080808"/>
<circle cx="1051.2" cy="653.9" r="1.45" fill="#080808"/>
<circle cx="1054.5" cy="653.6" r="1.45" fill="#080808"/>
<circle cx="1055" cy="661.9" r="1.45" fill="#080808"/>
<circle cx="1051.2" cy="664.8" r="1.45" fill="#080808"/>
<circle cx="1052.9" cy="669.8" r="1.45" fill="#080808"/>
<circle cx="1056.2" cy="674" r="1.45" fill="#080808"/>
<circle cx="1053.7" cy="678.2" r="1.45" fill="#080808"/>
<circle cx="1052" cy="684.1" r="1.45" fill="#080808"/>
<circle cx="1053.7" cy="687.4" r="1.45" fill="#080808"/>
<circle cx="1056.2" cy="689.9" r="1.45" fill="#080808"/>
<circle cx="1052" cy="692.4" r="1.45" fill="#080808"/>
<circle cx="1055.1" cy="691.1" r="1.45" fill="#080808"/>
<circle cx="1051.8" cy="704.1" r="1.45" fill="#080808"/>
<circle cx="1053" cy="716.2" r="1.45" fill="#080808"/>
<circle cx="1054.1" cy="732.6" r="1.45" fill="#080808"/>
<circle cx="1052.5" cy="741.9" r="1.45" fill="#080808"/>
<circle cx="1054.3" cy="748.8" r="1.45" fill="#080808"/>
<circle cx="1053" cy="759.7" r="1.45" fill="#080808"/>
<circle cx="1053.7" cy="767.9" r="1.45" fill="#080808"/>
<circle cx="1052.9" cy="798.5" r="1.45" fill="#080808"/>
<circle cx="1052.6" cy="871.7" r="1.45" fill="#080808"/>
<circle cx="1053.4" cy="910.2" r="1.45" fill="#080808"/>
<path d="M647.5 737 H654.5 M651 737 V757.2 M647.5 757.2 H654.5" stroke="#eeea30" stroke-width="1.9" fill="none" opacity="0.8"/>
<path d="M693.0 748.8 H700.0 M696.5 748.8 V772.2 M693.0 772.2 H700.0" stroke="#eeea30" stroke-width="1.9" fill="none" opacity="0.8"/>
<path d="M737.0 658.7 H744.0 M740.5 658.7 V671.1 M737.0 671.1 H744.0" stroke="#eeea30" stroke-width="1.9" fill="none" opacity="0.8"/>
<path d="M782.3 681.7 H789.3 M785.8 681.7 V697.6 M782.3 697.6 H789.3" stroke="#eeea30" stroke-width="1.9" fill="none" opacity="0.8"/>
<path d="M826.5 620 H833.5 M830 620 V632 M826.5 632 H833.5" stroke="#eeea30" stroke-width="1.9" fill="none" opacity="0.8"/>
<path d="M871.1 620 H878.1 M874.6 620 V633 M871.1 633 H878.1" stroke="#eeea30" stroke-width="1.9" fill="none" opacity="0.8"/>
<path d="M916.1 677.5 H923.1 M919.6 677.5 V692.5 M916.1 692.5 H923.1" stroke="#eeea30" stroke-width="1.9" fill="none" opacity="0.8"/>
<path d="M960.5 670.4 H967.5 M964 670.4 V685.5 M960.5 685.5 H967.5" stroke="#eeea30" stroke-width="1.9" fill="none" opacity="0.8"/>
<path d="M1005.5 674.8 H1012.5 M1009 674.8 V694.1 M1005.5 694.1 H1012.5" stroke="#eeea30" stroke-width="1.9" fill="none" opacity="0.8"/>
<path d="M1049.8 669 H1056.8 M1053.3 669 V688.2 M1049.8 688.2 H1056.8" stroke="#eeea30" stroke-width="1.9" fill="none" opacity="0.8"/>
<path d="M652 582.8 V577.2 H698.9 V582.8" fill="none" stroke="#2a2a2a" stroke-width="1.2"/>
<path d="M739.2 582.8 V577.2 H785.8 V582.8" fill="none" stroke="#2a2a2a" stroke-width="1.2"/>
<path d="M829.2 582.8 V577.2 H875.7 V582.8" fill="none" stroke="#2a2a2a" stroke-width="1.2"/>
<path d="M915.6 582.8 V577.2 H962.4 V582.8" fill="none" stroke="#2a2a2a" stroke-width="1.2"/>
<path d="M1005.3 582.8 V577.2 H1052.7 V582.8" fill="none" stroke="#2a2a2a" stroke-width="1.2"/>
<text x="663.93" y="570.80" font-size="16.5" font-weight="normal" fill="#1e1e1e" textLength="23.11" lengthAdjust="spacingAndGlyphs">NS</text>
<text x="841.65" y="570.80" font-size="16.5" font-weight="normal" fill="#1e1e1e" textLength="22.78" lengthAdjust="spacingAndGlyphs">NS</text>
<text x="926.95" y="570.80" font-size="16.5" font-weight="normal" fill="#1e1e1e" textLength="22.78" lengthAdjust="spacingAndGlyphs">NS</text>
<text x="1017.31" y="570.80" font-size="16.5" font-weight="normal" fill="#1e1e1e" textLength="23.44" lengthAdjust="spacingAndGlyphs">NS</text>
<path d="M756.5 569.7 L756.50 565.00 M756.5 569.7 L760.97 568.25 M756.5 569.7 L759.26 573.50 M756.5 569.7 L753.74 573.50 M756.5 569.7 L752.03 568.25 " stroke="#1e1e1e" stroke-width="1.8" stroke-linecap="butt" fill="none"/>
<path d="M767.25 569.7 L767.25 565.00 M767.25 569.7 L771.72 568.25 M767.25 569.7 L770.01 573.50 M767.25 569.7 L764.49 573.50 M767.25 569.7 L762.78 568.25 " stroke="#1e1e1e" stroke-width="1.8" stroke-linecap="butt" fill="none"/>
<rect x="881.5" y="971.3" width="189.6" height="37.4" fill="#fff"/>
<rect x="893.9" y="982.6" width="10.4" height="14.8" fill="#d6e9d8"/>
<rect x="971.9" y="982.6" width="14.8" height="14.8" fill="#d2d5fa"/>
<text x="916.21" y="995.30" font-size="17.2" font-weight="normal" fill="#1e1e1e" textLength="23.36" lengthAdjust="spacingAndGlyphs">HB</text>
<text x="1000.14" y="995.30" font-size="17.2" font-weight="normal" fill="#1e1e1e" textLength="65.91" lengthAdjust="spacingAndGlyphs">LD in HB</text>
<g fill="none" stroke="#b2b2b2" stroke-width="2.3" stroke-linecap="round" stroke-linejoin="round">
<path d="M835.2 1018.6 Q833 1025 830 1030.9"/>
<path d="M845.6 1017.9 Q848 1025 853 1030.2"/>
<path d="M839.6 1028.7 L832.2 1042 L853 1041.3"/>
<path d="M847.8 1034.6 L853.7 1043.5"/>
<path d="M873.7 1017.8 Q870 1025 861.9 1030.2"/>
<path d="M873.7 1017.8 Q879 1025 887 1029.4"/>
<path d="M864.8 1030.9 Q863 1038 859.6 1044"/>
<path d="M865.5 1034 L870.7 1042"/>
<path d="M879.6 1030.4 Q877 1038 873.7 1043.5"/>
<path d="M880 1033 Q884 1040 888.5 1043.8"/>
<path d="M892.7 1018.3 H916.7 V1026.5 H892.7 Z"/>
<path d="M891.5 1031.7 H919.6"/>
<path d="M898.1 1032.4 L896.7 1036.9 H916.7 Q916 1042 913.5 1044 L909.5 1043.2"/>
<path d="M957.5 1018.1 H980.6 V1025.6 H957.5 Z"/>
<path d="M957.5 1021.9 H980.6"/>
<path d="M956.3 1028.1 H983.1"/>
<path d="M958.1 1030.6 H980 V1038.1 H958.1 Z"/>
<path d="M958.1 1034.4 H980"/>
<path d="M969 1030.6 V1044.4"/>
<path d="M959 1040.9 H979"/>
<path d="M956.3 1044.4 H982.5"/>
<path d="M990.6 1020.6 H1010 L1000 1026.9"/>
<path d="M987.5 1031.3 H1013.1"/>
<path d="M1000 1026.9 V1043.3 L995.5 1042.6"/>
<path d="M1023.75 1017.8 Q1022 1024 1018.75 1029.4"/>
<path d="M1021.9 1025 V1045"/>
<path d="M1033.75 1017.8 L1035 1021.25"/>
<path d="M1027.5 1023.75 H1043.1"/>
<path d="M1030.6 1028.1 L1033.2 1038.75"/>
<path d="M1040.6 1027.5 L1037.8 1038.75"/>
<path d="M1026.25 1041.9 H1043.75"/>
</g>
<circle cx="936" cy="1031.3" r="1.6" fill="#b2b2b2"/>
<ellipse cx="792.2" cy="1025.7" rx="14.4" ry="11.1" fill="#b2b2b2"/>
<path d="M784 1034 L782.5 1040.5 L790 1036 Z" fill="#b2b2b2"/>
<circle cx="787.3" cy="1021.6" r="1.8" fill="#fff"/><circle cx="797.3" cy="1021.6" r="1.8" fill="#fff"/>
<ellipse cx="806.3" cy="1035.4" rx="13.6" ry="11.4" fill="#fff"/>
<ellipse cx="806.3" cy="1035.4" rx="12.6" ry="10.4" fill="#b2b2b2"/>
<path d="M812 1043 L814.5 1047.5 L807 1045 Z" fill="#b2b2b2"/>
<circle cx="801.9" cy="1032.9" r="1.6" fill="#fff"/><circle cx="810.7" cy="1032.9" r="1.6" fill="#fff"/>
<text x="758.42" y="1039.60" font-size="17.5" font-weight="normal" fill="#1e1e1e" textLength="10.88" lengthAdjust="spacingAndGlyphs">2</text>
<text x="848.57" y="1039.60" font-size="17.5" font-weight="normal" fill="#1e1e1e" textLength="10.89" lengthAdjust="spacingAndGlyphs">3</text>
<text x="938.59" y="1039.60" font-size="17.5" font-weight="normal" fill="#1e1e1e" textLength="10.02" lengthAdjust="spacingAndGlyphs">4</text>
<text x="1027.41" y="1039.60" font-size="17.5" font-weight="normal" fill="#1e1e1e" textLength="9.54" lengthAdjust="spacingAndGlyphs">5</text>
<path d="M670.2 1030.4 L673.95 1027.9 M673.65 1027.60 V1039.4" stroke="#1e1e1e" stroke-width="1.65" fill="none" stroke-linecap="butt"/>
</svg>
</body></html>
